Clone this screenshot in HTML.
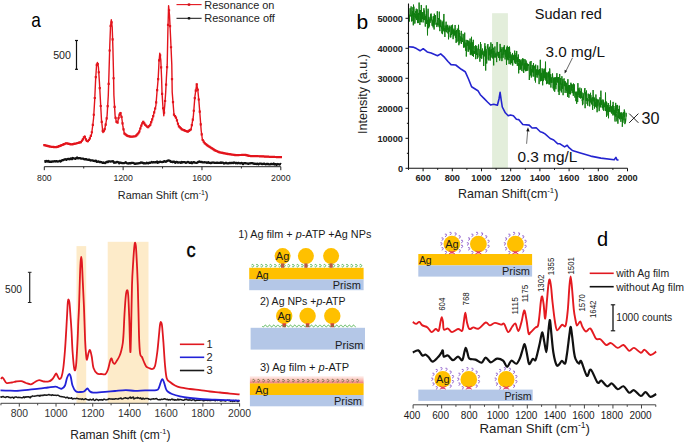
<!DOCTYPE html>
<html><head><meta charset="utf-8"><style>
html,body{margin:0;padding:0;background:#fff;}
svg{display:block;font-family:"Liberation Sans", sans-serif;}
</style></head><body>
<svg width="685" height="442" viewBox="0 0 685 442">
<rect width="685" height="442" fill="#fff"/>
<g id="pa">
<line x1="44.3" y1="166.7" x2="280.8" y2="166.7" stroke="#222" stroke-width="1"/>
<line x1="44.30" y1="166.7" x2="44.30" y2="170.2" stroke="#222" stroke-width="1"/>
<line x1="83.72" y1="166.7" x2="83.72" y2="168.5" stroke="#222" stroke-width="1"/>
<line x1="123.13" y1="166.7" x2="123.13" y2="170.2" stroke="#222" stroke-width="1"/>
<line x1="162.55" y1="166.7" x2="162.55" y2="168.5" stroke="#222" stroke-width="1"/>
<line x1="201.97" y1="166.7" x2="201.97" y2="170.2" stroke="#222" stroke-width="1"/>
<line x1="241.38" y1="166.7" x2="241.38" y2="168.5" stroke="#222" stroke-width="1"/>
<line x1="280.80" y1="166.7" x2="280.80" y2="170.2" stroke="#222" stroke-width="1"/>
<text x="44.30" y="180.7" font-size="9.6" font-weight="400" text-anchor="middle" fill="#222" textLength="14.5" lengthAdjust="spacingAndGlyphs" >800</text>
<text x="123.13" y="180.7" font-size="9.6" font-weight="400" text-anchor="middle" fill="#222" textLength="19.5" lengthAdjust="spacingAndGlyphs" >1200</text>
<text x="201.97" y="180.7" font-size="9.6" font-weight="400" text-anchor="middle" fill="#222" textLength="19.5" lengthAdjust="spacingAndGlyphs" >1600</text>
<text x="280.80" y="180.7" font-size="9.6" font-weight="400" text-anchor="middle" fill="#222" textLength="19.5" lengthAdjust="spacingAndGlyphs" >2000</text>
<text x="117.8" y="199" font-size="11" font-weight="400" text-anchor="start" fill="#222" textLength="90.6" lengthAdjust="spacingAndGlyphs" >Raman Shift (cm<tspan font-size="7" dy="-4.5">-1</tspan><tspan dy="4.5">)</tspan></text>
<text x="31.2" y="27.3" font-size="21" font-weight="400" text-anchor="start" fill="#000" textLength="9.6" lengthAdjust="spacingAndGlyphs" >a</text>
<line x1="76.5" y1="40.3" x2="76.5" y2="69.4" stroke="#111" stroke-width="1.2"/>
<line x1="75.0" y1="40.5" x2="78.0" y2="40.5" stroke="#111" stroke-width="1.2"/>
<line x1="75.0" y1="69.3" x2="78.0" y2="69.3" stroke="#111" stroke-width="1.2"/>
<text x="53.2" y="59.2" font-size="10.5" font-weight="400" text-anchor="start" fill="#222" textLength="17.8" lengthAdjust="spacingAndGlyphs" >500</text>
<line x1="176.5" y1="4.6" x2="201.6" y2="4.6" stroke="#e3141c" stroke-width="1.1"/>
<rect x="187.8" y="3.4" width="2.4" height="2.4" fill="#d0101a"/>
<line x1="176.5" y1="18.3" x2="201.6" y2="18.3" stroke="#111" stroke-width="1.0"/>
<rect x="187.8" y="17.1" width="2.4" height="2.4" fill="#111"/>
<text x="204.3" y="8.6" font-size="11" font-weight="400" text-anchor="start" fill="#222" textLength="70.1" lengthAdjust="spacingAndGlyphs" >Resonance on</text>
<text x="204.3" y="22.2" font-size="11" font-weight="400" text-anchor="start" fill="#222" textLength="70.6" lengthAdjust="spacingAndGlyphs" >Resonance off</text>
<path d="M44.30,145.10 L50.00,146.60 L56.10,147.30 L61.00,145.50 L66.30,143.20 L71.40,144.40 L76.00,143.50 L80.90,142.20 L82.80,139.50 L84.60,136.00 L86.30,140.50 L87.60,141.60 L89.60,139.00 L91.60,133.90 L92.80,125.00 L93.60,118.00 L94.70,100.00 L95.60,80.00 L96.50,66.00 L97.40,62.40 L98.40,67.00 L99.40,82.00 L100.40,100.00 L101.50,120.00 L102.90,132.50 L104.50,130.00 L105.80,124.00 L107.10,115.60 L108.30,95.20 L109.00,72.60 L109.80,45.00 L110.50,27.00 L111.30,19.80 L112.20,27.00 L112.90,48.00 L113.50,72.60 L113.90,95.20 L115.10,115.60 L116.40,121.80 L117.60,122.60 L119.00,116.00 L120.40,112.60 L121.80,118.00 L123.00,127.00 L124.40,133.50 L127.50,136.00 L131.00,136.80 L135.70,136.20 L139.00,132.50 L141.00,126.50 L143.00,121.50 L145.00,124.50 L147.90,127.40 L150.30,124.90 L153.00,117.00 L155.90,105.70 L157.00,92.00 L158.20,78.50 L159.00,62.00 L159.80,53.10 L160.80,60.00 L161.60,78.50 L162.00,92.10 L162.80,105.00 L163.80,115.80 L164.80,105.00 L165.70,92.10 L166.40,78.00 L167.20,64.90 L167.90,30.00 L168.60,5.70 L169.50,15.00 L170.70,40.00 L171.80,64.90 L172.20,92.10 L174.00,114.70 L176.30,118.10 L178.60,126.00 L182.00,129.40 L187.60,131.70 L191.00,129.40 L193.30,117.00 L194.90,96.60 L196.70,84.10 L197.80,90.00 L198.90,101.10 L200.00,115.00 L201.20,130.60 L202.40,139.50 L204.50,143.00 L207.50,145.50 L211.10,147.80 L215.00,150.30 L219.10,152.20 L227.80,154.00 L235.90,155.10 L245.00,154.90 L250.00,156.00 L260.00,156.30 L270.00,156.80 L281.00,157.20" fill="none" stroke="#e3141c" stroke-width="1.4" stroke-linejoin="round"/>
<path d="M43.20,144.00h2.2v2.2h-2.2zM44.19,144.26h2.2v2.2h-2.2zM45.18,144.52h2.2v2.2h-2.2zM46.17,144.78h2.2v2.2h-2.2zM47.16,145.04h2.2v2.2h-2.2zM48.15,145.30h2.2v2.2h-2.2zM49.14,145.53h2.2v2.2h-2.2zM50.13,145.64h2.2v2.2h-2.2zM51.12,145.75h2.2v2.2h-2.2zM52.11,145.87h2.2v2.2h-2.2zM53.10,145.98h2.2v2.2h-2.2zM54.09,146.10h2.2v2.2h-2.2zM55.08,146.17h2.2v2.2h-2.2zM56.07,145.81h2.2v2.2h-2.2zM57.06,145.44h2.2v2.2h-2.2zM58.05,145.08h2.2v2.2h-2.2zM59.04,144.72h2.2v2.2h-2.2zM60.03,144.34h2.2v2.2h-2.2zM61.02,143.91h2.2v2.2h-2.2zM62.01,143.48h2.2v2.2h-2.2zM63.00,143.05h2.2v2.2h-2.2zM63.99,142.63h2.2v2.2h-2.2zM64.98,142.20h2.2v2.2h-2.2zM65.97,142.28h2.2v2.2h-2.2zM66.96,142.51h2.2v2.2h-2.2zM67.95,142.75h2.2v2.2h-2.2zM68.94,142.98h2.2v2.2h-2.2zM69.93,143.21h2.2v2.2h-2.2zM70.92,143.18h2.2v2.2h-2.2zM71.91,142.99h2.2v2.2h-2.2zM72.90,142.79h2.2v2.2h-2.2zM73.89,142.60h2.2v2.2h-2.2zM74.88,142.40h2.2v2.2h-2.2zM75.87,142.14h2.2v2.2h-2.2zM76.86,141.88h2.2v2.2h-2.2zM77.85,141.62h2.2v2.2h-2.2zM78.84,141.35h2.2v2.2h-2.2zM79.83,141.06h2.2v2.2h-2.2zM80.82,139.65h2.2v2.2h-2.2zM81.81,138.19h2.2v2.2h-2.2zM82.80,136.26h2.2v2.2h-2.2zM83.79,135.67h2.2v2.2h-2.2zM84.78,138.29h2.2v2.2h-2.2zM85.77,139.88h2.2v2.2h-2.2zM86.76,140.16h2.2v2.2h-2.2zM87.75,138.88h2.2v2.2h-2.2zM88.74,137.29h2.2v2.2h-2.2zM89.73,134.76h2.2v2.2h-2.2zM90.72,131.17h2.2v2.2h-2.2zM91.71,123.81h2.2v2.2h-2.2zM92.70,113.63h2.2v2.2h-2.2zM93.69,96.90h2.2v2.2h-2.2zM94.68,76.10h2.2v2.2h-2.2zM95.67,63.82h2.2v2.2h-2.2zM96.66,62.96h2.2v2.2h-2.2zM97.65,71.15h2.2v2.2h-2.2zM98.64,87.02h2.2v2.2h-2.2zM99.63,104.90h2.2v2.2h-2.2zM100.62,120.86h2.2v2.2h-2.2zM101.61,129.70h2.2v2.2h-2.2zM102.60,130.15h2.2v2.2h-2.2zM103.59,128.02h2.2v2.2h-2.2zM104.58,123.45h2.2v2.2h-2.2zM105.57,117.28h2.2v2.2h-2.2zM106.56,104.98h2.2v2.2h-2.2zM107.55,82.80h2.2v2.2h-2.2zM108.54,49.42h2.2v2.2h-2.2zM109.53,24.73h2.2v2.2h-2.2zM110.52,21.26h2.2v2.2h-2.2zM111.51,38.20h2.2v2.2h-2.2zM112.50,77.15h2.2v2.2h-2.2zM113.49,105.83h2.2v2.2h-2.2zM114.48,116.79h2.2v2.2h-2.2zM115.47,120.81h2.2v2.2h-2.2zM116.46,121.47h2.2v2.2h-2.2zM117.45,117.02h2.2v2.2h-2.2zM118.44,113.59h2.2v2.2h-2.2zM119.43,112.00h2.2v2.2h-2.2zM120.42,115.82h2.2v2.2h-2.2zM121.41,122.22h2.2v2.2h-2.2zM122.40,128.22h2.2v2.2h-2.2zM123.39,132.47h2.2v2.2h-2.2zM124.38,133.27h2.2v2.2h-2.2zM125.37,134.07h2.2v2.2h-2.2zM126.36,134.87h2.2v2.2h-2.2zM127.35,135.12h2.2v2.2h-2.2zM128.34,135.34h2.2v2.2h-2.2zM129.33,135.57h2.2v2.2h-2.2zM130.32,135.65h2.2v2.2h-2.2zM131.31,135.52h2.2v2.2h-2.2zM132.30,135.39h2.2v2.2h-2.2zM133.29,135.27h2.2v2.2h-2.2zM134.28,135.14h2.2v2.2h-2.2zM135.27,134.35h2.2v2.2h-2.2zM136.26,133.24h2.2v2.2h-2.2zM137.25,132.13h2.2v2.2h-2.2zM138.24,130.38h2.2v2.2h-2.2zM139.23,127.41h2.2v2.2h-2.2zM140.22,124.60h2.2v2.2h-2.2zM141.21,122.13h2.2v2.2h-2.2zM142.20,120.85h2.2v2.2h-2.2zM143.19,122.33h2.2v2.2h-2.2zM144.18,123.68h2.2v2.2h-2.2zM145.17,124.67h2.2v2.2h-2.2zM146.16,125.66h2.2v2.2h-2.2zM147.15,125.94h2.2v2.2h-2.2zM148.14,124.90h2.2v2.2h-2.2zM149.13,123.87h2.2v2.2h-2.2zM150.12,121.11h2.2v2.2h-2.2zM151.11,118.21h2.2v2.2h-2.2zM152.10,115.12h2.2v2.2h-2.2zM153.09,111.26h2.2v2.2h-2.2zM154.08,107.41h2.2v2.2h-2.2zM155.07,101.24h2.2v2.2h-2.2zM156.06,89.10h2.2v2.2h-2.2zM157.05,77.96h2.2v2.2h-2.2zM158.04,59.34h2.2v2.2h-2.2zM159.03,54.28h2.2v2.2h-2.2zM160.02,66.30h2.2v2.2h-2.2zM161.01,92.77h2.2v2.2h-2.2zM162.00,107.14h2.2v2.2h-2.2zM162.99,111.57h2.2v2.2h-2.2zM163.98,99.89h2.2v2.2h-2.2zM164.97,83.55h2.2v2.2h-2.2zM165.96,66.09h2.2v2.2h-2.2zM166.95,23.69h2.2v2.2h-2.2zM167.94,9.15h2.2v2.2h-2.2zM168.93,24.94h2.2v2.2h-2.2zM169.92,46.14h2.2v2.2h-2.2zM170.91,78.08h2.2v2.2h-2.2zM171.90,101.04h2.2v2.2h-2.2zM172.89,113.47h2.2v2.2h-2.2zM173.88,115.05h2.2v2.2h-2.2zM174.87,116.51h2.2v2.2h-2.2zM175.86,119.27h2.2v2.2h-2.2zM176.85,122.67h2.2v2.2h-2.2zM177.84,125.24h2.2v2.2h-2.2zM178.83,126.23h2.2v2.2h-2.2zM179.82,127.22h2.2v2.2h-2.2zM180.81,128.21h2.2v2.2h-2.2zM181.80,128.67h2.2v2.2h-2.2zM182.79,129.08h2.2v2.2h-2.2zM183.78,129.48h2.2v2.2h-2.2zM184.77,129.89h2.2v2.2h-2.2zM185.76,130.30h2.2v2.2h-2.2zM186.75,130.43h2.2v2.2h-2.2zM187.74,129.76h2.2v2.2h-2.2zM188.73,129.09h2.2v2.2h-2.2zM189.72,128.42h2.2v2.2h-2.2zM190.71,123.93h2.2v2.2h-2.2zM191.70,118.60h2.2v2.2h-2.2zM192.69,109.65h2.2v2.2h-2.2zM193.68,97.03h2.2v2.2h-2.2zM194.67,89.46h2.2v2.2h-2.2zM195.66,83.32h2.2v2.2h-2.2zM196.65,88.63h2.2v2.2h-2.2zM197.64,98.39h2.2v2.2h-2.2zM198.63,110.49h2.2v2.2h-2.2zM199.62,123.26h2.2v2.2h-2.2zM200.61,133.28h2.2v2.2h-2.2zM201.60,138.90h2.2v2.2h-2.2zM202.59,140.55h2.2v2.2h-2.2zM203.58,142.05h2.2v2.2h-2.2zM204.57,142.88h2.2v2.2h-2.2zM205.56,143.70h2.2v2.2h-2.2zM206.55,144.50h2.2v2.2h-2.2zM207.54,145.13h2.2v2.2h-2.2zM208.53,145.76h2.2v2.2h-2.2zM209.52,146.39h2.2v2.2h-2.2zM210.51,147.03h2.2v2.2h-2.2zM211.50,147.66h2.2v2.2h-2.2zM212.49,148.30h2.2v2.2h-2.2zM213.48,148.93h2.2v2.2h-2.2zM214.47,149.46h2.2v2.2h-2.2zM215.46,149.92h2.2v2.2h-2.2zM216.45,150.38h2.2v2.2h-2.2zM217.44,150.84h2.2v2.2h-2.2zM218.43,151.19h2.2v2.2h-2.2zM219.42,151.39h2.2v2.2h-2.2zM220.41,151.60h2.2v2.2h-2.2zM221.40,151.80h2.2v2.2h-2.2zM222.39,152.01h2.2v2.2h-2.2zM223.38,152.21h2.2v2.2h-2.2zM224.37,152.42h2.2v2.2h-2.2zM225.36,152.62h2.2v2.2h-2.2zM226.35,152.83h2.2v2.2h-2.2zM227.34,152.99h2.2v2.2h-2.2zM228.33,153.12h2.2v2.2h-2.2zM229.32,153.26h2.2v2.2h-2.2zM230.31,153.39h2.2v2.2h-2.2zM231.30,153.52h2.2v2.2h-2.2zM232.29,153.66h2.2v2.2h-2.2zM233.28,153.79h2.2v2.2h-2.2zM234.27,153.93h2.2v2.2h-2.2zM235.26,153.99h2.2v2.2h-2.2zM236.25,153.97h2.2v2.2h-2.2zM237.24,153.95h2.2v2.2h-2.2zM238.23,153.92h2.2v2.2h-2.2zM239.22,153.90h2.2v2.2h-2.2zM240.21,153.88h2.2v2.2h-2.2zM241.20,153.86h2.2v2.2h-2.2zM242.19,153.84h2.2v2.2h-2.2zM243.18,153.82h2.2v2.2h-2.2zM244.17,153.86h2.2v2.2h-2.2zM245.16,154.08h2.2v2.2h-2.2zM246.15,154.30h2.2v2.2h-2.2zM247.14,154.51h2.2v2.2h-2.2zM248.13,154.73h2.2v2.2h-2.2zM249.12,154.91h2.2v2.2h-2.2zM250.11,154.94h2.2v2.2h-2.2zM251.10,154.97h2.2v2.2h-2.2zM252.09,155.00h2.2v2.2h-2.2zM253.08,155.03h2.2v2.2h-2.2zM254.07,155.06h2.2v2.2h-2.2zM255.06,155.08h2.2v2.2h-2.2zM256.05,155.11h2.2v2.2h-2.2zM257.04,155.14h2.2v2.2h-2.2zM258.03,155.17h2.2v2.2h-2.2zM259.02,155.21h2.2v2.2h-2.2zM260.01,155.26h2.2v2.2h-2.2zM261.00,155.31h2.2v2.2h-2.2zM261.99,155.35h2.2v2.2h-2.2zM262.98,155.40h2.2v2.2h-2.2zM263.97,155.45h2.2v2.2h-2.2zM264.96,155.50h2.2v2.2h-2.2zM265.95,155.55h2.2v2.2h-2.2zM266.94,155.60h2.2v2.2h-2.2zM267.93,155.65h2.2v2.2h-2.2zM268.92,155.70h2.2v2.2h-2.2zM269.91,155.74h2.2v2.2h-2.2zM270.90,155.77h2.2v2.2h-2.2zM271.89,155.81h2.2v2.2h-2.2zM272.88,155.84h2.2v2.2h-2.2zM273.87,155.88h2.2v2.2h-2.2zM274.86,155.92h2.2v2.2h-2.2zM275.85,155.95h2.2v2.2h-2.2zM276.84,155.99h2.2v2.2h-2.2zM277.83,156.02h2.2v2.2h-2.2zM278.82,156.06h2.2v2.2h-2.2zM279.81,156.10h2.2v2.2h-2.2z" fill="#e3141c"/>
<path d="M44.30,161.25 L44.82,161.25 L45.51,161.79 L46.32,160.89 L47.23,161.53 L48.20,160.89 L49.20,161.88 L50.19,161.60 L51.13,161.93 L52.00,161.35 L52.91,161.60 L53.79,161.39 L54.66,161.26 L55.52,161.51 L56.38,161.07 L57.25,161.29 L58.12,161.53 L59.00,161.22 L59.81,160.92 L60.63,161.50 L61.47,160.63 L62.31,160.18 L63.15,160.14 L63.97,159.68 L64.78,159.47 L65.56,159.27 L66.30,159.81 L67.20,159.04 L68.04,158.95 L68.84,158.99 L69.62,159.31 L70.40,158.57 L71.18,158.38 L72.00,159.24 L72.84,157.99 L73.69,158.25 L74.55,158.50 L75.41,158.93 L76.28,157.92 L77.14,157.46 L78.00,158.40 L78.87,158.08 L79.77,158.18 L80.67,158.52 L81.55,158.54 L82.42,158.67 L83.24,158.56 L84.00,159.19 L84.90,159.40 L85.64,159.12 L86.35,159.15 L87.16,159.70 L88.20,159.84 L88.91,159.53 L89.68,159.86 L90.52,160.48 L91.40,160.31 L92.31,160.42 L93.24,160.76 L94.17,160.87 L95.10,161.04 L96.00,160.62 L96.82,161.87 L97.68,161.55 L98.55,161.38 L99.44,162.08 L100.32,162.02 L101.18,162.07 L102.01,162.50 L102.80,162.96 L103.54,162.52 L104.20,162.88 L105.33,163.04 L106.26,161.99 L107.06,161.98 L107.79,162.19 L108.50,161.29 L109.61,161.43 L110.59,161.61 L111.50,161.41 L112.31,161.47 L113.07,161.09 L114.00,162.71 L114.61,162.30 L115.22,162.49 L115.92,162.52 L116.82,161.97 L118.00,162.17 L118.60,162.29 L119.24,163.28 L119.94,162.51 L120.68,162.75 L121.46,162.80 L122.28,163.11 L123.12,163.14 L123.99,163.12 L124.87,162.71 L125.77,162.19 L126.68,163.22 L127.60,163.28 L128.35,163.59 L129.13,163.20 L129.94,163.06 L130.77,163.38 L131.61,162.80 L132.47,162.96 L133.34,162.97 L134.21,163.36 L135.08,163.90 L135.94,163.50 L136.79,163.60 L137.63,163.32 L138.45,163.32 L139.24,163.08 L140.00,163.12 L140.92,162.44 L141.81,162.77 L142.67,162.71 L143.51,163.30 L144.34,163.19 L145.15,163.28 L145.95,163.35 L146.76,162.73 L147.56,163.08 L148.36,163.29 L149.17,162.65 L150.00,162.93 L150.85,162.50 L151.72,162.01 L152.62,162.48 L153.52,162.15 L154.42,162.37 L155.31,162.15 L156.19,162.33 L157.04,161.54 L157.85,162.76 L158.62,162.50 L159.34,161.94 L160.00,161.73 L161.13,161.93 L162.07,162.07 L162.88,161.93 L163.59,161.87 L164.28,161.09 L165.00,161.26 L165.88,161.86 L166.72,161.34 L167.52,160.62 L168.28,160.68 L169.00,160.47 L169.89,160.79 L170.67,161.82 L172.00,161.73 L172.57,162.21 L173.17,162.01 L173.81,161.56 L174.50,161.89 L175.25,162.85 L176.06,161.98 L176.93,161.95 L177.87,162.70 L178.89,162.39 L180.00,162.40 L180.67,162.86 L181.41,161.89 L182.21,162.57 L183.05,162.13 L183.94,162.03 L184.85,162.21 L185.79,162.82 L186.74,162.43 L187.69,161.91 L188.64,162.13 L189.57,162.93 L190.48,162.77 L191.36,162.12 L192.20,163.19 L193.00,162.32 L193.73,162.06 L194.40,162.37 L195.00,162.69 L196.42,162.83 L197.44,162.54 L198.19,161.98 L198.78,161.82 L199.34,161.47 L200.00,161.88 L200.67,161.79 L201.10,162.19 L201.58,161.91 L202.45,162.31 L204.00,162.33 L204.52,162.25 L205.07,162.28 L205.66,162.34 L206.29,162.30 L206.95,162.85 L207.63,162.71 L208.35,162.29 L209.10,162.85 L209.88,162.79 L210.69,163.15 L211.52,162.65 L212.38,162.65 L213.26,162.51 L214.16,162.76 L215.09,162.89 L216.03,162.80 L217.00,162.68 L217.98,162.94 L218.98,162.81 L220.00,162.88 L220.66,162.53 L221.34,162.89 L222.02,162.54 L222.71,162.60 L223.40,162.92 L224.11,163.53 L224.82,163.21 L225.54,162.92 L226.27,162.88 L227.01,163.26 L227.76,163.40 L228.52,163.36 L229.29,162.95 L230.06,163.08 L230.85,162.95 L231.65,162.98 L232.46,162.82 L233.28,163.03 L234.11,162.47 L234.95,162.78 L235.80,163.30 L236.67,162.91 L237.54,163.38 L238.43,162.84 L239.33,163.15 L240.25,163.40 L241.17,162.99 L242.11,163.11 L243.06,164.11 L244.02,163.17 L245.00,163.18 L245.69,163.24 L246.41,163.45 L247.16,163.45 L247.92,163.77 L248.71,163.73 L249.53,163.39 L250.36,163.42 L251.21,163.12 L252.07,163.12 L252.95,163.37 L253.85,163.84 L254.75,163.68 L255.66,163.91 L256.59,163.98 L257.52,163.66 L258.45,164.38 L259.39,163.60 L260.34,163.59 L261.28,163.67 L262.22,164.18 L263.16,163.81 L264.10,163.65 L265.03,164.03 L265.95,164.27 L266.87,163.91 L267.77,163.89 L268.66,164.32 L269.54,164.31 L270.41,164.32 L271.26,163.82 L272.09,164.16 L272.90,164.21 L273.69,163.57 L274.46,164.50 L275.21,164.19 L275.93,164.07 L276.62,164.88 L277.28,164.25 L277.92,164.00 L278.52,164.22 L279.09,164.43 L279.62,164.51 L280.12,164.26 L280.58,164.02 L281.00,164.30" fill="none" stroke="#111" stroke-width="2.3" stroke-linejoin="round"/>
</g>
<g id="pb">
<rect x="492.1" y="13.2" width="15.8" height="155.1" fill="#e3eedb"/>
<path d="M408.50,16.45 L408.70,22.01 L408.90,20.07 L409.10,14.77 L409.30,21.44 L409.50,15.89 L409.70,14.28 L409.90,13.94 L410.10,8.25 L410.30,14.92 L410.50,16.40 L410.70,16.03 L410.90,14.16 L411.10,6.42 L411.30,9.28 L411.50,21.39 L411.70,17.68 L411.90,14.62 L412.10,21.14 L412.30,15.02 L412.50,11.40 L412.70,15.93 L412.90,7.18 L413.10,10.91 L413.30,25.30 L413.50,4.61 L413.70,24.13 L413.90,6.65 L414.10,15.45 L414.30,12.98 L414.50,15.83 L414.70,17.91 L414.90,23.54 L415.10,20.78 L415.30,14.00 L415.50,18.25 L415.70,11.05 L415.90,13.12 L416.10,9.38 L416.30,8.70 L416.50,15.30 L416.70,19.91 L416.90,13.86 L417.10,20.13 L417.30,9.37 L417.50,23.09 L417.70,15.38 L417.90,14.30 L418.10,15.42 L418.30,23.08 L418.50,12.92 L418.70,17.77 L418.90,19.75 L419.10,2.57 L419.30,14.20 L419.50,15.01 L419.70,9.93 L419.90,24.94 L420.10,10.01 L420.30,22.08 L420.50,10.22 L420.70,18.16 L420.90,14.66 L421.10,20.69 L421.30,4.97 L421.50,22.20 L421.70,17.63 L421.90,13.11 L422.10,15.75 L422.30,14.37 L422.50,19.06 L422.70,12.02 L422.90,12.89 L423.10,22.45 L423.30,16.96 L423.50,19.06 L423.70,19.94 L423.90,8.23 L424.10,19.31 L424.30,10.53 L424.50,19.79 L424.70,20.03 L424.90,14.37 L425.10,21.39 L425.30,26.61 L425.50,16.11 L425.70,17.27 L425.90,16.40 L426.10,17.53 L426.30,5.42 L426.50,23.95 L426.70,10.67 L426.90,18.04 L427.10,19.36 L427.30,21.32 L427.50,35.39 L427.70,20.22 L427.90,21.96 L428.10,8.74 L428.30,24.40 L428.50,18.48 L428.70,28.25 L428.90,16.88 L429.10,21.41 L429.30,22.97 L429.50,26.50 L429.70,19.36 L429.90,18.65 L430.10,22.89 L430.30,20.51 L430.50,14.60 L430.70,14.14 L430.90,21.04 L431.10,13.51 L431.30,16.92 L431.50,19.98 L431.70,16.74 L431.90,22.57 L432.10,25.78 L432.30,21.27 L432.50,25.45 L432.70,21.86 L432.90,19.63 L433.10,27.40 L433.30,16.15 L433.50,25.05 L433.70,20.44 L433.90,19.45 L434.10,29.51 L434.30,13.71 L434.50,22.51 L434.70,18.07 L434.90,24.55 L435.10,15.42 L435.30,18.20 L435.50,15.40 L435.70,21.91 L435.90,22.19 L436.10,24.59 L436.30,23.27 L436.50,23.26 L436.70,23.88 L436.90,27.06 L437.10,17.22 L437.30,11.22 L437.50,19.34 L437.70,25.13 L437.90,23.01 L438.10,25.50 L438.30,20.78 L438.50,18.07 L438.70,18.84 L438.90,20.76 L439.10,27.13 L439.30,11.66 L439.50,24.66 L439.70,28.73 L439.90,31.16 L440.10,19.57 L440.30,24.58 L440.50,26.57 L440.70,27.15 L440.90,20.36 L441.10,25.08 L441.30,25.41 L441.50,29.06 L441.70,26.81 L441.90,33.42 L442.10,24.85 L442.30,21.58 L442.50,34.12 L442.70,29.92 L442.90,23.48 L443.10,25.30 L443.30,20.46 L443.50,30.68 L443.70,18.11 L443.90,13.98 L444.10,21.07 L444.30,32.09 L444.50,28.07 L444.70,31.22 L444.90,36.96 L445.10,25.56 L445.30,27.92 L445.50,31.29 L445.70,31.30 L445.90,26.27 L446.10,21.69 L446.30,32.27 L446.50,30.80 L446.70,25.46 L446.90,28.77 L447.10,28.64 L447.30,25.97 L447.50,29.67 L447.70,24.83 L447.90,33.42 L448.10,28.54 L448.30,27.82 L448.50,39.33 L448.70,36.61 L448.90,30.38 L449.10,26.29 L449.30,31.73 L449.50,27.00 L449.70,27.88 L449.90,25.51 L450.10,26.32 L450.30,37.13 L450.50,33.99 L450.70,37.53 L450.90,36.75 L451.10,27.01 L451.30,34.31 L451.50,35.05 L451.70,25.30 L451.90,29.60 L452.10,32.87 L452.30,33.79 L452.50,24.70 L452.70,30.30 L452.90,30.52 L453.10,39.16 L453.30,30.13 L453.50,36.30 L453.70,33.60 L453.90,28.67 L454.10,32.94 L454.30,35.52 L454.50,33.02 L454.70,30.54 L454.90,33.32 L455.10,24.99 L455.30,36.86 L455.50,37.89 L455.70,31.23 L455.90,32.93 L456.10,42.89 L456.30,36.13 L456.50,30.11 L456.70,38.82 L456.90,42.09 L457.10,33.92 L457.30,28.61 L457.50,29.40 L457.70,30.05 L457.90,34.65 L458.10,41.10 L458.30,37.09 L458.50,24.87 L458.70,31.28 L458.90,45.22 L459.10,30.08 L459.30,35.81 L459.50,36.95 L459.70,33.03 L459.90,43.46 L460.10,37.71 L460.30,36.46 L460.50,41.15 L460.70,38.04 L460.90,37.21 L461.10,35.25 L461.30,30.88 L461.50,43.90 L461.70,37.27 L461.90,39.54 L462.10,38.39 L462.30,39.69 L462.50,40.75 L462.70,42.00 L462.90,33.84 L463.10,33.91 L463.30,34.13 L463.50,47.67 L463.70,47.26 L463.90,42.04 L464.10,45.56 L464.30,46.58 L464.50,44.38 L464.70,32.63 L464.90,47.54 L465.10,43.67 L465.30,42.75 L465.50,47.45 L465.70,50.78 L465.90,50.14 L466.10,39.83 L466.30,56.55 L466.50,49.04 L466.70,49.66 L466.90,42.84 L467.10,45.98 L467.30,39.97 L467.50,44.38 L467.70,41.71 L467.90,45.34 L468.10,51.71 L468.30,40.62 L468.50,41.37 L468.70,51.41 L468.90,42.69 L469.10,42.60 L469.30,41.45 L469.50,49.49 L469.70,47.58 L469.90,42.11 L470.10,38.55 L470.30,54.66 L470.50,49.02 L470.70,42.64 L470.90,42.66 L471.10,55.18 L471.30,54.36 L471.50,36.80 L471.70,53.60 L471.90,49.20 L472.10,51.47 L472.30,50.75 L472.50,55.91 L472.70,42.29 L472.90,48.71 L473.10,45.02 L473.30,39.81 L473.50,56.71 L473.70,51.29 L473.90,51.18 L474.10,52.71 L474.30,51.06 L474.50,53.84 L474.70,50.78 L474.90,46.05 L475.10,48.91 L475.30,52.40 L475.50,45.36 L475.70,59.16 L475.90,50.71 L476.10,53.11 L476.30,50.29 L476.50,54.76 L476.70,45.79 L476.90,54.71 L477.10,48.49 L477.30,58.71 L477.50,57.60 L477.70,53.41 L477.90,57.56 L478.10,55.76 L478.30,53.95 L478.50,44.52 L478.70,49.41 L478.90,49.36 L479.10,49.96 L479.30,49.45 L479.50,56.47 L479.70,57.75 L479.90,61.71 L480.10,58.77 L480.30,51.66 L480.50,42.06 L480.70,57.99 L480.90,44.09 L481.10,53.17 L481.30,55.88 L481.50,50.50 L481.70,58.78 L481.90,56.84 L482.10,51.63 L482.30,51.49 L482.50,48.56 L482.70,54.44 L482.90,52.13 L483.10,54.86 L483.30,55.16 L483.50,54.05 L483.70,66.03 L483.90,50.84 L484.10,55.04 L484.30,56.41 L484.50,48.54 L484.70,51.77 L484.90,43.23 L485.10,55.32 L485.30,46.31 L485.50,61.78 L485.70,70.54 L485.90,54.69 L486.10,49.22 L486.30,57.84 L486.50,51.51 L486.70,63.54 L486.90,55.29 L487.10,48.48 L487.30,45.69 L487.50,46.35 L487.70,48.65 L487.90,44.04 L488.10,58.84 L488.30,59.64 L488.50,56.55 L488.70,48.31 L488.90,60.50 L489.10,54.42 L489.30,46.76 L489.50,55.19 L489.70,49.81 L489.90,50.83 L490.10,56.83 L490.30,60.53 L490.50,50.17 L490.70,56.39 L490.90,42.38 L491.10,57.59 L491.30,49.15 L491.50,53.40 L491.70,53.68 L491.90,51.39 L492.10,51.51 L492.30,43.99 L492.50,50.26 L492.70,58.46 L492.90,52.36 L493.10,51.87 L493.30,47.69 L493.50,60.45 L493.70,65.40 L493.90,50.92 L494.10,53.97 L494.30,56.93 L494.50,57.44 L494.70,56.00 L494.90,46.49 L495.10,52.96 L495.30,54.42 L495.50,53.71 L495.70,57.56 L495.90,55.68 L496.10,52.60 L496.30,53.56 L496.50,60.38 L496.70,62.11 L496.90,50.70 L497.10,42.09 L497.30,52.26 L497.50,51.68 L497.70,55.60 L497.90,56.35 L498.10,54.05 L498.30,54.55 L498.50,52.18 L498.70,57.99 L498.90,53.95 L499.10,53.13 L499.30,51.59 L499.50,53.51 L499.70,60.62 L499.90,58.83 L500.10,43.90 L500.30,51.28 L500.50,49.07 L500.70,52.04 L500.90,46.95 L501.10,58.30 L501.30,52.82 L501.50,48.77 L501.70,49.04 L501.90,61.13 L502.10,58.91 L502.30,54.98 L502.50,53.95 L502.70,54.62 L502.90,47.30 L503.10,57.82 L503.30,48.92 L503.50,50.66 L503.70,46.88 L503.90,54.60 L504.10,50.60 L504.30,45.24 L504.50,51.61 L504.70,49.22 L504.90,56.09 L505.10,59.43 L505.30,53.11 L505.50,50.09 L505.70,56.75 L505.90,57.03 L506.10,49.73 L506.30,56.19 L506.50,64.86 L506.70,47.44 L506.90,52.12 L507.10,56.92 L507.30,45.78 L507.50,58.68 L507.70,52.95 L507.90,60.23 L508.10,49.25 L508.30,47.03 L508.50,55.97 L508.70,59.74 L508.90,58.97 L509.10,64.13 L509.30,54.77 L509.50,46.59 L509.70,48.89 L509.90,58.39 L510.10,51.93 L510.30,59.73 L510.50,59.35 L510.70,64.46 L510.90,54.28 L511.10,57.12 L511.30,58.39 L511.50,63.06 L511.70,55.45 L511.90,60.49 L512.10,58.07 L512.30,55.69 L512.50,52.96 L512.70,65.59 L512.90,55.86 L513.10,55.90 L513.30,60.15 L513.50,55.45 L513.70,59.45 L513.90,57.68 L514.10,54.70 L514.30,58.20 L514.50,62.41 L514.70,50.63 L514.90,55.92 L515.10,63.42 L515.30,55.24 L515.50,57.38 L515.70,55.67 L515.90,64.01 L516.10,53.18 L516.30,56.06 L516.50,58.41 L516.70,50.94 L516.90,62.28 L517.10,58.15 L517.30,65.83 L517.50,58.42 L517.70,61.17 L517.90,56.93 L518.10,58.09 L518.30,54.47 L518.50,62.32 L518.70,73.36 L518.90,63.05 L519.10,66.07 L519.30,59.02 L519.50,62.80 L519.70,63.41 L519.90,70.00 L520.10,60.24 L520.30,64.44 L520.50,68.46 L520.70,60.86 L520.90,69.41 L521.10,59.35 L521.30,68.25 L521.50,63.61 L521.70,67.40 L521.90,71.08 L522.10,62.32 L522.30,63.26 L522.50,58.60 L522.70,65.45 L522.90,58.38 L523.10,65.11 L523.30,71.68 L523.50,69.53 L523.70,72.90 L523.90,58.98 L524.10,69.43 L524.30,64.72 L524.50,63.46 L524.70,67.86 L524.90,69.57 L525.10,59.30 L525.30,70.72 L525.50,63.24 L525.70,71.26 L525.90,62.93 L526.10,60.51 L526.30,61.83 L526.50,71.02 L526.70,70.81 L526.90,62.86 L527.10,65.41 L527.30,65.58 L527.50,63.90 L527.70,70.75 L527.90,70.24 L528.10,65.82 L528.30,64.07 L528.50,65.79 L528.70,64.56 L528.90,66.54 L529.10,69.81 L529.30,79.99 L529.50,75.03 L529.70,74.82 L529.90,65.97 L530.10,61.67 L530.30,75.49 L530.50,66.67 L530.70,64.04 L530.90,62.70 L531.10,61.03 L531.30,77.52 L531.50,69.21 L531.70,71.20 L531.90,76.51 L532.10,65.16 L532.30,65.09 L532.50,72.13 L532.70,72.02 L532.90,66.29 L533.10,71.69 L533.30,73.15 L533.50,63.03 L533.70,76.62 L533.90,73.86 L534.10,66.47 L534.30,66.37 L534.50,67.98 L534.70,66.34 L534.90,77.46 L535.10,80.67 L535.30,65.08 L535.50,82.48 L535.70,64.65 L535.90,76.99 L536.10,69.91 L536.30,74.63 L536.50,69.75 L536.70,74.67 L536.90,69.40 L537.10,77.75 L537.30,76.96 L537.50,73.26 L537.70,65.47 L537.90,71.97 L538.10,75.16 L538.30,70.66 L538.50,73.66 L538.70,69.98 L538.90,70.52 L539.10,84.14 L539.30,69.05 L539.50,72.74 L539.70,69.38 L539.90,72.79 L540.10,76.10 L540.30,59.82 L540.50,81.27 L540.70,74.05 L540.90,80.80 L541.10,76.16 L541.30,72.84 L541.50,78.10 L541.70,79.64 L541.90,80.94 L542.10,68.30 L542.30,79.62 L542.50,80.96 L542.70,85.32 L542.90,69.27 L543.10,74.58 L543.30,81.17 L543.50,78.81 L543.70,71.23 L543.90,77.13 L544.10,68.68 L544.30,76.34 L544.50,76.23 L544.70,77.82 L544.90,68.77 L545.10,79.75 L545.30,72.46 L545.50,61.65 L545.70,78.66 L545.90,78.04 L546.10,81.00 L546.30,72.36 L546.50,84.14 L546.70,78.62 L546.90,76.19 L547.10,73.08 L547.30,79.12 L547.50,83.24 L547.70,83.66 L547.90,82.21 L548.10,72.23 L548.30,77.34 L548.50,72.91 L548.70,71.58 L548.90,84.39 L549.10,72.37 L549.30,83.29 L549.50,84.34 L549.70,68.46 L549.90,71.68 L550.10,82.56 L550.30,75.54 L550.50,80.90 L550.70,74.17 L550.90,87.56 L551.10,77.16 L551.30,82.72 L551.50,78.36 L551.70,79.18 L551.90,82.54 L552.10,82.75 L552.30,76.82 L552.50,73.49 L552.70,77.91 L552.90,76.89 L553.10,88.45 L553.30,80.59 L553.50,78.24 L553.70,87.10 L553.90,90.52 L554.10,77.95 L554.30,84.76 L554.50,77.63 L554.70,91.73 L554.90,77.91 L555.10,87.24 L555.30,77.21 L555.50,83.48 L555.70,80.93 L555.90,89.23 L556.10,83.21 L556.30,84.98 L556.50,76.60 L556.70,80.10 L556.90,73.21 L557.10,82.32 L557.30,79.29 L557.50,82.06 L557.70,77.22 L557.90,82.60 L558.10,78.86 L558.30,91.78 L558.50,77.02 L558.70,82.51 L558.90,87.76 L559.10,95.03 L559.30,86.53 L559.50,90.37 L559.70,73.97 L559.90,80.62 L560.10,84.61 L560.30,82.93 L560.50,83.39 L560.70,78.06 L560.90,90.63 L561.10,83.46 L561.30,92.44 L561.50,88.60 L561.70,85.68 L561.90,76.23 L562.10,81.69 L562.30,84.98 L562.50,81.77 L562.70,88.89 L562.90,79.16 L563.10,95.21 L563.30,84.04 L563.50,83.98 L563.70,83.40 L563.90,80.60 L564.10,78.36 L564.30,86.21 L564.50,83.79 L564.70,83.81 L564.90,80.94 L565.10,92.93 L565.30,81.61 L565.50,84.73 L565.70,87.92 L565.90,89.93 L566.10,84.22 L566.30,91.07 L566.50,90.85 L566.70,82.74 L566.90,92.89 L567.10,88.85 L567.30,86.54 L567.50,96.84 L567.70,88.22 L567.90,79.21 L568.10,93.39 L568.30,91.06 L568.50,85.06 L568.70,89.21 L568.90,97.70 L569.10,85.06 L569.30,94.00 L569.50,85.31 L569.70,91.41 L569.90,91.26 L570.10,91.69 L570.30,90.90 L570.50,94.31 L570.70,85.03 L570.90,82.73 L571.10,90.39 L571.30,85.43 L571.50,83.86 L571.70,90.51 L571.90,89.35 L572.10,93.18 L572.30,84.44 L572.50,88.50 L572.70,88.47 L572.90,92.53 L573.10,89.94 L573.30,95.85 L573.50,83.46 L573.70,91.81 L573.90,93.68 L574.10,88.45 L574.30,84.37 L574.50,89.95 L574.70,93.22 L574.90,97.57 L575.10,95.60 L575.30,91.69 L575.50,92.78 L575.70,95.72 L575.90,101.18 L576.10,95.19 L576.30,92.28 L576.50,93.22 L576.70,103.77 L576.90,91.51 L577.10,95.03 L577.30,92.49 L577.50,95.32 L577.70,101.97 L577.90,83.13 L578.10,95.15 L578.30,88.32 L578.50,90.04 L578.70,95.29 L578.90,97.23 L579.10,96.00 L579.30,91.16 L579.50,89.79 L579.70,97.79 L579.90,87.63 L580.10,94.42 L580.30,91.38 L580.50,98.46 L580.70,93.98 L580.90,94.03 L581.10,91.48 L581.30,97.68 L581.50,88.51 L581.70,97.52 L581.90,92.32 L582.10,101.01 L582.30,100.65 L582.50,105.15 L582.70,96.70 L582.90,104.26 L583.10,93.18 L583.30,94.15 L583.50,100.14 L583.70,98.60 L583.90,94.65 L584.10,94.57 L584.30,93.13 L584.50,89.37 L584.70,92.30 L584.90,88.01 L585.10,108.19 L585.30,92.23 L585.50,95.28 L585.70,93.79 L585.90,99.51 L586.10,100.77 L586.30,93.36 L586.50,90.50 L586.70,100.77 L586.90,98.50 L587.10,103.99 L587.30,98.26 L587.50,105.51 L587.70,100.20 L587.90,99.08 L588.10,93.65 L588.30,93.76 L588.50,96.81 L588.70,98.48 L588.90,101.23 L589.10,99.44 L589.30,106.01 L589.50,94.45 L589.70,106.40 L589.90,102.68 L590.10,100.87 L590.30,102.51 L590.50,92.80 L590.70,100.53 L590.90,95.15 L591.10,100.58 L591.30,100.71 L591.50,104.35 L591.70,98.63 L591.90,98.34 L592.10,101.07 L592.30,97.23 L592.50,108.82 L592.70,109.88 L592.90,102.86 L593.10,90.01 L593.30,97.71 L593.50,101.29 L593.70,96.83 L593.90,96.89 L594.10,105.96 L594.30,97.76 L594.50,108.53 L594.70,98.88 L594.90,102.53 L595.10,107.13 L595.30,103.31 L595.50,101.84 L595.70,106.17 L595.90,94.51 L596.10,101.39 L596.30,98.97 L596.50,107.65 L596.70,98.67 L596.90,102.33 L597.10,112.25 L597.30,106.91 L597.50,99.64 L597.70,103.43 L597.90,106.36 L598.10,103.40 L598.30,99.56 L598.50,101.93 L598.70,101.96 L598.90,105.72 L599.10,111.14 L599.30,110.71 L599.50,102.80 L599.70,104.61 L599.90,97.31 L600.10,100.00 L600.30,102.17 L600.50,107.33 L600.70,96.55 L600.90,90.66 L601.10,97.06 L601.30,104.91 L601.50,100.44 L601.70,101.44 L601.90,105.25 L602.10,107.57 L602.30,105.31 L602.50,104.99 L602.70,108.08 L602.90,99.44 L603.10,109.71 L603.30,100.33 L603.50,108.18 L603.70,110.78 L603.90,101.90 L604.10,105.80 L604.30,107.18 L604.50,105.18 L604.70,103.42 L604.90,106.87 L605.10,105.83 L605.30,110.48 L605.50,92.53 L605.70,111.08 L605.90,103.76 L606.10,104.90 L606.30,101.52 L606.50,116.77 L606.70,102.29 L606.90,107.51 L607.10,115.56 L607.30,108.36 L607.50,105.18 L607.70,112.10 L607.90,109.45 L608.10,111.35 L608.30,103.07 L608.50,118.26 L608.70,109.49 L608.90,111.22 L609.10,107.68 L609.30,109.45 L609.50,107.30 L609.70,111.83 L609.90,106.84 L610.10,105.05 L610.30,108.26 L610.50,100.50 L610.70,111.48 L610.90,112.29 L611.10,106.64 L611.30,107.30 L611.50,113.49 L611.70,106.38 L611.90,112.13 L612.10,112.45 L612.30,108.94 L612.50,105.22 L612.70,110.21 L612.90,115.43 L613.10,101.88 L613.30,113.94 L613.50,109.60 L613.70,114.44 L613.90,106.01 L614.10,114.00 L614.30,115.30 L614.50,111.80 L614.70,109.91 L614.90,120.35 L615.10,121.54 L615.30,107.99 L615.50,116.50 L615.70,102.86 L615.90,108.10 L616.10,110.92 L616.30,105.25 L616.50,113.40 L616.70,117.87 L616.90,121.38 L617.10,111.17 L617.30,109.92 L617.50,104.93 L617.70,111.56 L617.90,123.70 L618.10,115.57 L618.30,118.10 L618.50,108.97 L618.70,112.94 L618.90,112.11 L619.10,117.69 L619.30,105.71 L619.50,118.68 L619.70,116.33 L619.90,119.37 L620.10,112.79 L620.30,117.26 L620.50,116.34 L620.70,113.06 L620.90,121.83 L621.10,112.18 L621.30,114.99 L621.50,119.11 L621.70,114.37 L621.90,115.44 L622.10,112.67 L622.30,126.75 L622.50,123.09 L622.70,116.24 L622.90,122.77 L623.10,114.35 L623.30,115.98 L623.50,112.17 L623.70,115.58 L623.90,120.32 L624.10,115.96 L624.30,109.54 L624.50,116.95 L624.70,111.48 L624.90,124.13 L625.10,121.01 L625.30,118.75 L625.50,122.55 L625.70,121.00 L625.90,119.71 L626.10,112.86 L626.30,116.61" fill="none" stroke="#0f7d0f" stroke-width="1.0" stroke-linejoin="bevel"/>
<path d="M408.20,46.70 L412.90,47.10 L416.50,48.60 L420.10,50.80 L423.20,48.70 L427.20,51.90 L431.10,53.00 L437.50,55.80 L440.70,53.90 L444.60,57.40 L448.00,61.50 L451.00,64.60 L455.70,65.00 L461.30,69.30 L465.20,71.70 L468.50,79.00 L471.60,86.80 L477.90,90.70 L480.30,94.70 L484.20,98.60 L487.50,102.00 L490.60,105.00 L493.70,104.20 L497.40,105.30 L499.00,99.00 L500.10,92.30 L501.20,100.00 L502.30,107.00 L505.30,112.80 L508.20,115.80 L510.50,115.00 L513.40,115.80 L516.40,119.30 L518.70,119.60 L522.80,124.50 L529.20,125.10 L532.10,128.00 L536.20,127.80 L540.30,131.80 L542.60,132.50 L545.00,133.90 L550.20,138.50 L553.70,140.00 L557.80,143.80 L560.00,143.80 L564.60,146.90 L567.20,145.30 L568.70,147.40 L572.30,150.40 L580.40,153.00 L590.70,156.10 L600.90,158.10 L614.20,159.80 L615.90,157.40 L617.00,159.80 L618.50,160.30" fill="none" stroke="#2424d0" stroke-width="1.6" stroke-linejoin="round"/>
<line x1="408.5" y1="3.5" x2="408.5" y2="168.3" stroke="#111" stroke-width="1.1"/>
<line x1="408.5" y1="168.3" x2="627.5" y2="168.3" stroke="#111" stroke-width="1.1"/>
<line x1="405.5" y1="168.30" x2="408.5" y2="168.30" stroke="#111" stroke-width="1"/>
<line x1="406.9" y1="153.30" x2="408.5" y2="153.30" stroke="#111" stroke-width="1"/>
<line x1="405.5" y1="138.30" x2="408.5" y2="138.30" stroke="#111" stroke-width="1"/>
<line x1="406.9" y1="123.30" x2="408.5" y2="123.30" stroke="#111" stroke-width="1"/>
<line x1="405.5" y1="108.30" x2="408.5" y2="108.30" stroke="#111" stroke-width="1"/>
<line x1="406.9" y1="93.30" x2="408.5" y2="93.30" stroke="#111" stroke-width="1"/>
<line x1="405.5" y1="78.30" x2="408.5" y2="78.30" stroke="#111" stroke-width="1"/>
<line x1="406.9" y1="63.30" x2="408.5" y2="63.30" stroke="#111" stroke-width="1"/>
<line x1="405.5" y1="48.30" x2="408.5" y2="48.30" stroke="#111" stroke-width="1"/>
<line x1="406.9" y1="33.30" x2="408.5" y2="33.30" stroke="#111" stroke-width="1"/>
<line x1="405.5" y1="18.30" x2="408.5" y2="18.30" stroke="#111" stroke-width="1"/>
<text x="403" y="141.50" font-size="9.2" font-weight="700" text-anchor="end" fill="#222" textLength="25.6" lengthAdjust="spacingAndGlyphs" >10000</text>
<text x="403" y="111.50" font-size="9.2" font-weight="700" text-anchor="end" fill="#222" textLength="25.6" lengthAdjust="spacingAndGlyphs" >20000</text>
<text x="403" y="81.50" font-size="9.2" font-weight="700" text-anchor="end" fill="#222" textLength="25.6" lengthAdjust="spacingAndGlyphs" >30000</text>
<text x="403" y="51.50" font-size="9.2" font-weight="700" text-anchor="end" fill="#222" textLength="25.6" lengthAdjust="spacingAndGlyphs" >40000</text>
<text x="403" y="21.50" font-size="9.2" font-weight="700" text-anchor="end" fill="#222" textLength="25.6" lengthAdjust="spacingAndGlyphs" >50000</text>
<text x="403" y="171.50" font-size="9.2" font-weight="700" text-anchor="end" fill="#222" >0</text>
<line x1="408.50" y1="168.3" x2="408.50" y2="169.9" stroke="#111" stroke-width="1"/>
<line x1="423.10" y1="168.3" x2="423.10" y2="171.3" stroke="#111" stroke-width="1"/>
<line x1="437.70" y1="168.3" x2="437.70" y2="169.9" stroke="#111" stroke-width="1"/>
<line x1="452.30" y1="168.3" x2="452.30" y2="171.3" stroke="#111" stroke-width="1"/>
<line x1="466.90" y1="168.3" x2="466.90" y2="169.9" stroke="#111" stroke-width="1"/>
<line x1="481.50" y1="168.3" x2="481.50" y2="171.3" stroke="#111" stroke-width="1"/>
<line x1="496.10" y1="168.3" x2="496.10" y2="169.9" stroke="#111" stroke-width="1"/>
<line x1="510.70" y1="168.3" x2="510.70" y2="171.3" stroke="#111" stroke-width="1"/>
<line x1="525.30" y1="168.3" x2="525.30" y2="169.9" stroke="#111" stroke-width="1"/>
<line x1="539.90" y1="168.3" x2="539.90" y2="171.3" stroke="#111" stroke-width="1"/>
<line x1="554.50" y1="168.3" x2="554.50" y2="169.9" stroke="#111" stroke-width="1"/>
<line x1="569.10" y1="168.3" x2="569.10" y2="171.3" stroke="#111" stroke-width="1"/>
<line x1="583.70" y1="168.3" x2="583.70" y2="169.9" stroke="#111" stroke-width="1"/>
<line x1="598.30" y1="168.3" x2="598.30" y2="171.3" stroke="#111" stroke-width="1"/>
<line x1="612.90" y1="168.3" x2="612.90" y2="169.9" stroke="#111" stroke-width="1"/>
<line x1="627.50" y1="168.3" x2="627.50" y2="171.3" stroke="#111" stroke-width="1"/>
<text x="423.10" y="180.8" font-size="9.2" font-weight="700" text-anchor="middle" fill="#222" >600</text>
<text x="452.30" y="180.8" font-size="9.2" font-weight="700" text-anchor="middle" fill="#222" >800</text>
<text x="481.50" y="180.8" font-size="9.2" font-weight="700" text-anchor="middle" fill="#222" >1000</text>
<text x="510.70" y="180.8" font-size="9.2" font-weight="700" text-anchor="middle" fill="#222" >1200</text>
<text x="539.90" y="180.8" font-size="9.2" font-weight="700" text-anchor="middle" fill="#222" >1400</text>
<text x="569.10" y="180.8" font-size="9.2" font-weight="700" text-anchor="middle" fill="#222" >1600</text>
<text x="598.30" y="180.8" font-size="9.2" font-weight="700" text-anchor="middle" fill="#222" >1800</text>
<text x="627.50" y="180.8" font-size="9.2" font-weight="700" text-anchor="middle" fill="#222" >2000</text>
<text x="458" y="197.5" font-size="12.7" font-weight="400" text-anchor="start" fill="#222" textLength="100.4" lengthAdjust="spacingAndGlyphs" >Raman Shift(cm<tspan font-size="8" dy="-5">-1</tspan><tspan dy="5">)</tspan></text>
<text x="367.2" y="94" font-size="12.6" font-weight="400" text-anchor="middle" fill="#222" textLength="80" lengthAdjust="spacingAndGlyphs" transform="rotate(-90 367.2 94)">Intensity (a.u.)</text>
<text x="356.5" y="29.1" font-size="21" font-weight="400" text-anchor="start" fill="#000" >b</text>
<text x="534.8" y="18.6" font-size="14.5" font-weight="400" text-anchor="start" fill="#111" textLength="67" lengthAdjust="spacingAndGlyphs" >Sudan red</text>
<text x="545.4" y="57.2" font-size="15" font-weight="400" text-anchor="start" fill="#111" textLength="59.5" lengthAdjust="spacingAndGlyphs" >3.0 mg/L</text>
<text x="517.4" y="162.3" font-size="15" font-weight="400" text-anchor="start" fill="#111" textLength="59.9" lengthAdjust="spacingAndGlyphs" >0.3 mg/L</text>
<line x1="572.5" y1="57.8" x2="565.2" y2="72.5" stroke="#222" stroke-width="0.7"/>
<path d="M564.7,73.5 L564.6,69.8 L567.0,71.0 Z" fill="#222"/>
<line x1="526.6" y1="143.8" x2="527.8" y2="129.5" stroke="#333" stroke-width="0.7"/>
<path d="M528.0,127.2 L526.3,131.2 L529.6,131.4 Z" fill="#111"/>
<path d="M629.2,113.6 L638.4,122.8 M638.4,113.6 L629.2,122.8" stroke="#222" stroke-width="1"/>
<text x="641.6" y="124.2" font-size="16" font-weight="400" text-anchor="start" fill="#111" textLength="18" lengthAdjust="spacingAndGlyphs" >30</text>
</g>
<g id="pc">
<rect x="76.5" y="246.1" width="9.7" height="157" fill="#fdebc9"/>
<rect x="107.7" y="241.8" width="40.8" height="161.4" fill="#fdebc9"/>
<line x1="0.8" y1="403.3" x2="239.6" y2="403.3" stroke="#444" stroke-width="1"/>
<line x1="0.94" y1="403.3" x2="0.94" y2="405.3" stroke="#444" stroke-width="1"/>
<line x1="19.30" y1="403.3" x2="19.30" y2="406.6" stroke="#444" stroke-width="1"/>
<line x1="37.66" y1="403.3" x2="37.66" y2="405.3" stroke="#444" stroke-width="1"/>
<line x1="56.02" y1="403.3" x2="56.02" y2="406.6" stroke="#444" stroke-width="1"/>
<line x1="74.38" y1="403.3" x2="74.38" y2="405.3" stroke="#444" stroke-width="1"/>
<line x1="92.73" y1="403.3" x2="92.73" y2="406.6" stroke="#444" stroke-width="1"/>
<line x1="111.09" y1="403.3" x2="111.09" y2="405.3" stroke="#444" stroke-width="1"/>
<line x1="129.45" y1="403.3" x2="129.45" y2="406.6" stroke="#444" stroke-width="1"/>
<line x1="147.81" y1="403.3" x2="147.81" y2="405.3" stroke="#444" stroke-width="1"/>
<line x1="166.17" y1="403.3" x2="166.17" y2="406.6" stroke="#444" stroke-width="1"/>
<line x1="184.52" y1="403.3" x2="184.52" y2="405.3" stroke="#444" stroke-width="1"/>
<line x1="202.88" y1="403.3" x2="202.88" y2="406.6" stroke="#444" stroke-width="1"/>
<line x1="221.24" y1="403.3" x2="221.24" y2="405.3" stroke="#444" stroke-width="1"/>
<line x1="239.60" y1="403.3" x2="239.60" y2="406.6" stroke="#444" stroke-width="1"/>
<text x="19.30" y="417.3" font-size="10.4" font-weight="400" text-anchor="middle" fill="#333" >800</text>
<text x="56.02" y="417.3" font-size="10.4" font-weight="400" text-anchor="middle" fill="#333" >1000</text>
<text x="92.73" y="417.3" font-size="10.4" font-weight="400" text-anchor="middle" fill="#333" >1200</text>
<text x="129.45" y="417.3" font-size="10.4" font-weight="400" text-anchor="middle" fill="#333" >1400</text>
<text x="166.17" y="417.3" font-size="10.4" font-weight="400" text-anchor="middle" fill="#333" >1600</text>
<text x="202.88" y="417.3" font-size="10.4" font-weight="400" text-anchor="middle" fill="#333" >1800</text>
<text x="239.60" y="417.3" font-size="10.4" font-weight="400" text-anchor="middle" fill="#333" >2000</text>
<text x="70.2" y="438.6" font-size="12.3" font-weight="400" text-anchor="start" fill="#222" textLength="100.2" lengthAdjust="spacingAndGlyphs" >Raman Shift (cm<tspan font-size="7.5" dy="-5">-1</tspan><tspan dy="5">)</tspan></text>
<line x1="29.7" y1="272.3" x2="29.7" y2="302.5" stroke="#222" stroke-width="1.2"/>
<line x1="27.9" y1="272.3" x2="31.5" y2="272.3" stroke="#222" stroke-width="1"/>
<line x1="27.9" y1="302.5" x2="31.5" y2="302.5" stroke="#222" stroke-width="1"/>
<text x="5" y="293" font-size="10.4" font-weight="400" text-anchor="start" fill="#222" textLength="17" lengthAdjust="spacingAndGlyphs" >500</text>
<text x="186.6" y="257.0" font-size="21" font-weight="400" text-anchor="start" fill="#000" textLength="9.1" lengthAdjust="spacingAndGlyphs" stroke="#000" stroke-width="0.45">c</text>
<path d="M0.50,396.37 L0.99,396.95 L1.58,397.20 L2.27,396.71 L3.05,396.46 L3.90,396.94 L4.82,397.18 L5.78,397.44 L6.80,396.67 L7.85,396.68 L8.92,397.42 L10.00,397.37 L10.68,397.76 L11.41,397.58 L12.16,397.23 L12.94,397.19 L13.75,398.21 L14.58,397.24 L15.42,397.09 L16.27,396.99 L17.13,397.45 L17.99,397.48 L18.85,397.33 L19.70,397.44 L20.54,397.56 L21.36,397.71 L22.16,397.85 L22.94,397.52 L23.69,396.80 L24.40,397.65 L25.33,396.85 L26.21,397.21 L27.04,396.67 L27.83,397.08 L28.60,396.70 L29.36,396.92 L30.10,397.88 L30.86,396.58 L31.62,396.76 L32.41,395.88 L33.23,396.12 L34.09,396.34 L35.00,395.97 L35.74,396.05 L36.51,395.87 L37.32,395.40 L38.15,395.86 L38.99,395.29 L39.86,396.14 L40.73,395.22 L41.60,395.54 L42.48,395.22 L43.35,395.48 L44.22,394.86 L45.06,395.35 L45.89,394.90 L46.69,395.33 L47.46,395.07 L48.20,394.87 L48.90,394.53 L49.90,395.06 L50.83,394.97 L51.69,395.41 L52.51,394.76 L53.29,395.15 L54.05,395.21 L54.80,395.23 L55.55,395.31 L56.33,395.41 L57.14,395.26 L58.00,395.24 L58.75,395.58 L59.52,396.07 L60.29,396.55 L61.06,396.53 L61.85,396.73 L62.64,396.81 L63.45,396.97 L64.25,396.97 L65.07,397.36 L65.89,397.88 L66.72,397.30 L67.56,397.32 L68.40,398.39 L69.19,397.90 L70.00,398.25 L70.82,398.31 L71.64,397.70 L72.47,399.03 L73.31,398.87 L74.16,398.39 L75.00,398.66 L75.84,398.51 L76.69,398.22 L77.53,398.56 L78.36,398.79 L79.18,399.12 L80.00,399.05 L80.85,398.90 L81.66,399.44 L82.44,398.78 L83.20,399.42 L83.95,399.61 L84.71,399.21 L85.48,398.76 L86.29,399.15 L87.13,399.62 L88.02,399.78 L88.97,400.18 L89.99,399.33 L91.10,399.70 L91.76,399.93 L92.44,399.66 L93.14,398.88 L93.86,399.99 L94.60,400.51 L95.35,400.05 L96.11,399.36 L96.90,399.52 L97.69,399.73 L98.50,400.50 L99.33,399.83 L100.16,399.63 L101.01,400.11 L101.87,399.50 L102.74,400.15 L103.62,399.23 L104.51,399.27 L105.41,399.65 L106.31,399.86 L107.23,399.55 L108.14,399.39 L109.07,398.61 L110.00,398.95 L110.73,398.95 L111.49,398.94 L112.27,399.29 L113.08,398.92 L113.91,399.26 L114.76,398.96 L115.63,398.75 L116.50,398.85 L117.39,398.90 L118.29,398.99 L119.19,398.46 L120.10,398.48 L121.00,398.02 L121.91,398.99 L122.81,398.88 L123.70,398.24 L124.58,398.08 L125.45,397.75 L126.31,398.18 L127.14,398.14 L127.96,398.78 L128.76,398.05 L129.53,397.64 L130.27,397.01 L130.98,398.32 L131.66,397.86 L132.31,397.20 L132.91,397.80 L133.48,397.15 L134.00,398.92 L135.68,398.09 L136.62,397.96 L137.10,397.82 L137.39,397.29 L137.79,398.16 L138.57,397.82 L140.00,398.71 L140.53,397.78 L141.07,398.25 L141.62,399.02 L142.19,399.20 L142.78,398.24 L143.39,398.15 L144.02,399.03 L144.67,399.05 L145.34,398.44 L146.03,398.57 L146.75,398.60 L147.49,398.46 L148.26,398.67 L149.06,399.38 L149.89,399.21 L150.74,399.72 L151.63,399.01 L152.55,399.02 L153.51,398.76 L154.50,399.09 L155.52,398.71 L156.58,398.58 L157.68,399.48 L158.82,399.77 L160.00,399.59 L160.61,399.78 L161.23,399.42 L161.87,399.10 L162.52,399.40 L163.19,399.26 L163.87,399.01 L164.57,398.83 L165.28,398.92 L165.99,399.46 L166.73,399.53 L167.47,399.33 L168.22,400.01 L168.99,399.59 L169.76,399.75 L170.54,399.99 L171.33,399.30 L172.13,398.91 L172.94,399.88 L173.76,399.40 L174.58,400.12 L175.41,399.79 L176.24,400.05 L177.08,399.98 L177.93,399.00 L178.78,400.00 L179.63,399.53 L180.48,399.52 L181.34,399.65 L182.21,400.09 L183.07,400.15 L183.93,400.21 L184.80,399.30 L185.67,399.69 L186.53,399.08 L187.40,399.90 L188.26,400.16 L189.13,399.70 L189.99,400.07 L190.85,400.09 L191.71,400.38 L192.56,399.76 L193.41,399.77 L194.25,399.81 L195.09,400.71 L195.93,400.50 L196.75,400.09 L197.58,400.23 L198.39,400.21 L199.20,400.25 L200.00,400.13 L200.82,400.10 L201.66,399.80 L202.50,400.03 L203.37,400.85 L204.24,400.48 L205.13,400.33 L206.02,400.25 L206.93,400.37 L207.84,400.49 L208.76,400.16 L209.69,400.47 L210.62,400.51 L211.56,400.18 L212.50,400.18 L213.44,400.13 L214.38,400.13 L215.32,400.83 L216.27,399.71 L217.21,400.46 L218.14,400.36 L219.08,400.37 L220.01,400.64 L220.93,401.02 L221.84,400.67 L222.75,400.62 L223.65,400.47 L224.54,400.66 L225.42,401.04 L226.29,400.60 L227.14,400.35 L227.98,400.33 L228.81,400.40 L229.62,400.32 L230.41,401.20 L231.18,400.96 L231.94,400.76 L232.68,401.37 L233.39,400.65 L234.08,401.15 L234.76,401.18 L235.40,400.38 L236.02,400.38 L236.62,400.62 L237.19,401.27 L237.73,401.42 L238.24,400.54 L238.73,401.35 L239.18,400.86 L239.60,401.00" fill="none" stroke="#1a1a1a" stroke-width="1.5" stroke-linejoin="round"/>
<path d="M0.50,390.40 C1.75,390.43 5.37,390.53 8.00,390.60 C10.63,390.67 12.97,390.93 16.30,390.80 C19.63,390.67 24.20,390.15 28.00,389.80 C31.80,389.45 35.77,389.08 39.10,388.70 C42.43,388.32 45.28,387.85 48.00,387.50 C50.72,387.15 53.73,386.60 55.40,386.60 C57.07,386.60 56.92,387.15 58.00,387.50 C59.08,387.85 60.73,389.03 61.90,388.70 C63.07,388.37 64.15,387.28 65.00,385.50 C65.85,383.72 66.30,379.92 67.00,378.00 C67.70,376.08 68.57,374.17 69.20,374.00 C69.83,373.83 70.25,375.08 70.80,377.00 C71.35,378.92 71.67,383.12 72.50,385.50 C73.33,387.88 74.55,390.22 75.80,391.30 C77.05,392.38 78.63,391.97 80.00,392.00 C81.37,392.03 82.77,392.08 84.00,391.50 C85.23,390.92 86.48,388.58 87.40,388.50 C88.32,388.42 88.55,390.32 89.50,391.00 C90.45,391.68 90.52,392.47 93.10,392.60 C95.68,392.73 101.35,392.07 105.00,391.80 C108.65,391.53 111.53,391.27 115.00,391.00 C118.47,390.73 122.47,390.23 125.80,390.20 C129.13,390.17 131.80,390.77 135.00,390.80 C138.20,390.83 141.42,390.50 145.00,390.40 C148.58,390.30 154.17,390.68 156.50,390.20 C158.83,389.72 158.25,388.95 159.00,387.50 C159.75,386.05 160.40,382.87 161.00,381.50 C161.60,380.13 162.07,379.05 162.60,379.30 C163.13,379.55 163.63,381.38 164.20,383.00 C164.77,384.62 165.42,387.58 166.00,389.00 C166.58,390.42 166.70,390.67 167.70,391.50 C168.70,392.33 169.95,393.18 172.00,394.00 C174.05,394.82 177.00,395.73 180.00,396.40 C183.00,397.07 186.67,397.57 190.00,398.00 C193.33,398.43 195.83,398.73 200.00,399.00 C204.17,399.27 208.40,399.33 215.00,399.60 C221.60,399.87 235.50,400.43 239.60,400.60" fill="none" stroke="#2222d8" stroke-width="1.8"/>
<path d="M1.00,379.00 C1.20,378.72 1.70,377.22 2.20,377.30 C2.70,377.38 3.28,378.55 4.00,379.50 C4.72,380.45 5.17,382.50 6.50,383.00 C7.83,383.50 10.42,382.75 12.00,382.50 C13.58,382.25 14.47,381.73 16.00,381.50 C17.53,381.27 19.53,380.85 21.20,381.10 C22.87,381.35 24.37,382.47 26.00,383.00 C27.63,383.53 29.50,384.47 31.00,384.30 C32.50,384.13 33.65,382.70 35.00,382.00 C36.35,381.30 37.60,380.18 39.10,380.10 C40.60,380.02 42.37,381.28 44.00,381.50 C45.63,381.72 47.57,381.73 48.90,381.40 C50.23,381.07 51.07,380.40 52.00,379.50 C52.93,378.60 53.80,377.03 54.50,376.00 C55.20,374.97 55.65,373.22 56.20,373.30 C56.75,373.38 57.27,375.55 57.80,376.50 C58.33,377.45 58.78,378.92 59.40,379.00 C60.02,379.08 60.85,378.83 61.50,377.00 C62.15,375.17 62.72,372.50 63.30,368.00 C63.88,363.50 64.52,356.17 65.00,350.00 C65.48,343.83 65.83,337.17 66.20,331.00 C66.57,324.83 66.93,317.75 67.20,313.00 C67.47,308.25 67.57,304.75 67.80,302.50 C68.03,300.25 68.32,299.42 68.60,299.50 C68.88,299.58 69.18,300.25 69.50,303.00 C69.82,305.75 70.17,311.40 70.50,316.00 C70.83,320.60 71.15,324.60 71.50,330.60 C71.85,336.60 72.13,345.60 72.60,352.00 C73.07,358.40 73.73,366.67 74.30,369.00 C74.87,371.33 75.45,370.83 76.00,366.00 C76.55,361.17 77.22,347.33 77.60,340.00 C77.98,332.67 78.07,327.35 78.30,322.00 C78.53,316.65 78.72,315.73 79.00,307.90 C79.28,300.07 79.73,282.65 80.00,275.00 C80.27,267.35 80.40,265.00 80.60,262.00 C80.80,259.00 80.98,257.00 81.20,257.00 C81.42,257.00 81.65,258.17 81.90,262.00 C82.15,265.83 82.35,272.35 82.70,280.00 C83.05,287.65 83.60,297.90 84.00,307.90 C84.40,317.90 84.77,332.32 85.10,340.00 C85.43,347.68 85.68,350.68 86.00,354.00 C86.32,357.32 86.58,360.07 87.00,359.90 C87.42,359.73 87.98,354.62 88.50,353.00 C89.02,351.38 89.55,349.53 90.10,350.20 C90.65,350.87 91.23,354.03 91.80,357.00 C92.37,359.97 92.60,365.25 93.50,368.00 C94.40,370.75 95.95,372.50 97.20,373.50 C98.45,374.50 99.63,373.88 101.00,374.00 C102.37,374.12 104.23,374.95 105.40,374.20 C106.57,373.45 107.23,371.62 108.00,369.50 C108.77,367.38 109.42,363.35 110.00,361.50 C110.58,359.65 111.00,358.23 111.50,358.40 C112.00,358.57 112.48,361.58 113.00,362.50 C113.52,363.42 113.93,364.23 114.60,363.90 C115.27,363.57 116.18,361.82 117.00,360.50 C117.82,359.18 118.80,357.58 119.50,356.00 C120.20,354.42 120.65,353.17 121.20,351.00 C121.75,348.83 122.40,346.00 122.80,343.00 C123.20,340.00 123.32,337.83 123.60,333.00 C123.88,328.17 124.13,320.17 124.50,314.00 C124.87,307.83 125.38,299.95 125.80,296.00 C126.22,292.05 126.60,290.47 127.00,290.30 C127.40,290.13 127.82,290.05 128.20,295.00 C128.58,299.95 128.95,310.55 129.30,320.00 C129.65,329.45 130.02,349.20 130.30,351.70 C130.58,354.20 130.72,346.07 131.00,335.00 C131.28,323.93 131.63,297.47 132.00,285.30 C132.37,273.13 132.83,268.22 133.20,262.00 C133.57,255.78 133.88,251.22 134.20,248.00 C134.52,244.78 134.78,242.53 135.10,242.70 C135.42,242.87 135.65,241.90 136.10,249.00 C136.55,256.10 137.32,270.97 137.80,285.30 C138.28,299.63 138.62,323.60 139.00,335.00 C139.38,346.40 139.60,350.03 140.10,353.70 C140.60,357.37 141.35,355.62 142.00,357.00 C142.65,358.38 143.28,360.40 144.00,362.00 C144.72,363.60 145.47,365.60 146.30,366.60 C147.13,367.60 147.98,367.60 149.00,368.00 C150.02,368.40 151.40,369.33 152.40,369.00 C153.40,368.67 154.18,368.83 155.00,366.00 C155.82,363.17 156.67,356.83 157.30,352.00 C157.93,347.17 158.35,341.50 158.80,337.00 C159.25,332.50 159.63,327.50 160.00,325.00 C160.37,322.50 160.67,321.92 161.00,322.00 C161.33,322.08 161.60,322.17 162.00,325.50 C162.40,328.83 162.90,335.42 163.40,342.00 C163.90,348.58 164.45,358.97 165.00,365.00 C165.55,371.03 165.87,375.37 166.70,378.20 C167.53,381.03 168.62,380.78 170.00,382.00 C171.38,383.22 173.33,384.60 175.00,385.50 C176.67,386.40 177.50,386.82 180.00,387.40 C182.50,387.98 186.67,388.53 190.00,389.00 C193.33,389.47 196.67,389.78 200.00,390.20 C203.33,390.62 206.67,391.12 210.00,391.50 C213.33,391.88 216.67,392.15 220.00,392.50 C223.33,392.85 226.73,393.28 230.00,393.60 C233.27,393.92 238.00,394.27 239.60,394.40" fill="none" stroke="#e01820" stroke-width="1.8"/>
<line x1="179.9" y1="344.3" x2="204.2" y2="344.3" stroke="#e01820" stroke-width="1.6"/>
<line x1="179.9" y1="357.3" x2="204.2" y2="357.3" stroke="#2222d8" stroke-width="1.6"/>
<line x1="179.9" y1="370.5" x2="204.2" y2="370.5" stroke="#1a1a1a" stroke-width="1.6"/>
<text x="206.4" y="348.2" font-size="11" font-weight="400" text-anchor="start" fill="#222" >1</text>
<text x="206.4" y="361.2" font-size="11" font-weight="400" text-anchor="start" fill="#222" >2</text>
<text x="206.4" y="374.4" font-size="11" font-weight="400" text-anchor="start" fill="#222" >3</text>
</g>
<g id="dc">
<text x="238.2" y="238.2" font-size="11" font-weight="400" text-anchor="start" fill="#1a1a1a" textLength="133.1" lengthAdjust="spacingAndGlyphs" >1) Ag film + <tspan font-style="italic">p</tspan>-ATP +Ag NPs</text>
<rect x="249.2" y="267.8" width="114.4" height="11.6" fill="#ffc000"/>
<rect x="249.2" y="279.4" width="114.4" height="10.8" fill="#b4c7e7"/>
<path d="M251.5,265.0 a1.2,1.2 0 1 1 0.2,1.6" fill="none" stroke="#3aa83a" stroke-width="0.8"/><path d="M256.0,265.0 a1.2,1.2 0 1 1 0.2,1.6" fill="none" stroke="#3aa83a" stroke-width="0.8"/><path d="M260.5,265.0 a1.2,1.2 0 1 1 0.2,1.6" fill="none" stroke="#3aa83a" stroke-width="0.8"/><path d="M265.0,265.0 a1.2,1.2 0 1 1 0.2,1.6" fill="none" stroke="#3aa83a" stroke-width="0.8"/><path d="M269.5,265.0 a1.2,1.2 0 1 1 0.2,1.6" fill="none" stroke="#3aa83a" stroke-width="0.8"/><path d="M274.0,265.0 a1.2,1.2 0 1 1 0.2,1.6" fill="none" stroke="#3aa83a" stroke-width="0.8"/><path d="M278.5,265.0 a1.2,1.2 0 1 1 0.2,1.6" fill="none" stroke="#3aa83a" stroke-width="0.8"/><path d="M283.0,265.0 a1.2,1.2 0 1 1 0.2,1.6" fill="none" stroke="#3aa83a" stroke-width="0.8"/><path d="M287.5,265.0 a1.2,1.2 0 1 1 0.2,1.6" fill="none" stroke="#3aa83a" stroke-width="0.8"/><path d="M292.0,265.0 a1.2,1.2 0 1 1 0.2,1.6" fill="none" stroke="#3aa83a" stroke-width="0.8"/><path d="M296.5,265.0 a1.2,1.2 0 1 1 0.2,1.6" fill="none" stroke="#3aa83a" stroke-width="0.8"/><path d="M301.0,265.0 a1.2,1.2 0 1 1 0.2,1.6" fill="none" stroke="#3aa83a" stroke-width="0.8"/><path d="M305.5,265.0 a1.2,1.2 0 1 1 0.2,1.6" fill="none" stroke="#3aa83a" stroke-width="0.8"/><path d="M310.0,265.0 a1.2,1.2 0 1 1 0.2,1.6" fill="none" stroke="#3aa83a" stroke-width="0.8"/><path d="M314.5,265.0 a1.2,1.2 0 1 1 0.2,1.6" fill="none" stroke="#3aa83a" stroke-width="0.8"/><path d="M319.0,265.0 a1.2,1.2 0 1 1 0.2,1.6" fill="none" stroke="#3aa83a" stroke-width="0.8"/><path d="M323.5,265.0 a1.2,1.2 0 1 1 0.2,1.6" fill="none" stroke="#3aa83a" stroke-width="0.8"/><path d="M328.0,265.0 a1.2,1.2 0 1 1 0.2,1.6" fill="none" stroke="#3aa83a" stroke-width="0.8"/><path d="M332.5,265.0 a1.2,1.2 0 1 1 0.2,1.6" fill="none" stroke="#3aa83a" stroke-width="0.8"/><path d="M337.0,265.0 a1.2,1.2 0 1 1 0.2,1.6" fill="none" stroke="#3aa83a" stroke-width="0.8"/><path d="M341.5,265.0 a1.2,1.2 0 1 1 0.2,1.6" fill="none" stroke="#3aa83a" stroke-width="0.8"/><path d="M346.0,265.0 a1.2,1.2 0 1 1 0.2,1.6" fill="none" stroke="#3aa83a" stroke-width="0.8"/><path d="M350.5,265.0 a1.2,1.2 0 1 1 0.2,1.6" fill="none" stroke="#3aa83a" stroke-width="0.8"/><path d="M355.0,265.0 a1.2,1.2 0 1 1 0.2,1.6" fill="none" stroke="#3aa83a" stroke-width="0.8"/><path d="M359.5,265.0 a1.2,1.2 0 1 1 0.2,1.6" fill="none" stroke="#3aa83a" stroke-width="0.8"/>
<circle cx="282.6" cy="256.1" r="8" fill="#ffc000"/><text x="282.6" y="259.90000000000003" font-size="11" font-weight="400" text-anchor="middle" fill="#1a1a1a" >Ag</text>
<rect x="281.0" y="263.4" width="3.2" height="4.4" fill="#b85a48"/>
<circle cx="305.9" cy="256.1" r="8" fill="#ffc000"/>
<rect x="304.29999999999995" y="263.4" width="3.2" height="4.4" fill="#b85a48"/>
<circle cx="331.1" cy="256.1" r="8" fill="#ffc000"/>
<rect x="329.5" y="263.4" width="3.2" height="4.4" fill="#b85a48"/>
<text x="255.9" y="279.0" font-size="10.8" font-weight="400" text-anchor="start" fill="#1a1a1a" textLength="12.8" lengthAdjust="spacingAndGlyphs" >Ag</text>
<text x="332.8" y="289.0" font-size="11" font-weight="400" text-anchor="start" fill="#1a1a1a" textLength="28" lengthAdjust="spacingAndGlyphs" >Prism</text>
<text x="259.9" y="305.2" font-size="11" font-weight="400" text-anchor="start" fill="#1a1a1a" textLength="85.7" lengthAdjust="spacingAndGlyphs" >2) Ag NPs +<tspan font-style="italic">p</tspan>-ATP</text>
<circle cx="284.2" cy="316.0" r="8.2" fill="#ffc000"/><text x="284.2" y="319.8" font-size="11" font-weight="400" text-anchor="middle" fill="#1a1a1a" >Ag</text>
<rect x="282.4" y="323.3" width="3.6" height="4" fill="#d84040"/>
<circle cx="307.6" cy="316.0" r="8.2" fill="#ffc000"/>
<rect x="305.8" y="323.3" width="3.6" height="4" fill="#d84040"/>
<circle cx="332.3" cy="316.0" r="8.2" fill="#ffc000"/>
<rect x="330.5" y="323.3" width="3.6" height="4" fill="#d84040"/>
<path d="M262.20,326.00 L262.70,326.68 L263.20,327.00 L263.70,326.78 L264.20,326.15 L264.70,325.44 L265.20,325.03 L265.70,325.13 L266.20,325.71 L266.70,326.43 L267.20,326.93 L267.70,326.93 L268.20,326.43 L268.70,325.71 L269.20,325.13 L269.70,325.03 L270.20,325.44 L270.70,326.15 L271.20,326.78 L271.70,327.00 L272.20,326.68 L272.70,326.00 L273.20,325.32 L273.70,325.00 L274.20,325.22 L274.70,325.85 L275.20,326.56 L275.70,326.97 L276.20,326.87 L276.70,326.29 L277.20,325.57 L277.70,325.07 L278.20,325.07 L278.70,325.57 L279.20,326.29 L279.70,326.87 L280.20,326.97 L280.70,326.56 L281.20,325.85 L281.70,325.22 L282.20,325.00 L282.70,325.32 L283.20,326.00 L283.70,326.68 L284.20,327.00 L284.70,326.78 L285.20,326.15 L285.70,325.44 L286.20,325.03 L286.70,325.13 L287.20,325.71 L287.70,326.43 L288.20,326.93 L288.70,326.93 L289.20,326.43 L289.70,325.71 L290.20,325.13 L290.70,325.03 L291.20,325.44 L291.70,326.15 L292.20,326.78 L292.70,327.00 L293.20,326.68 L293.70,326.00 L294.20,325.32 L294.70,325.00 L295.20,325.22 L295.70,325.85 L296.20,326.56 L296.70,326.97 L297.20,326.87 L297.70,326.29 L298.20,325.57 L298.70,325.07 L299.20,325.07 L299.70,325.57 L300.20,326.29 L300.70,326.87 L301.20,326.97 L301.70,326.56 L302.20,325.85 L302.70,325.22 L303.20,325.00 L303.70,325.32 L304.20,326.00 L304.70,326.68 L305.20,327.00 L305.70,326.78 L306.20,326.15 L306.70,325.44 L307.20,325.03 L307.70,325.13 L308.20,325.71 L308.70,326.43 L309.20,326.93 L309.70,326.93 L310.20,326.43 L310.70,325.71 L311.20,325.13 L311.70,325.03 L312.20,325.44 L312.70,326.15 L313.20,326.78 L313.70,327.00 L314.20,326.68 L314.70,326.00 L315.20,325.32 L315.70,325.00 L316.20,325.22 L316.70,325.85 L317.20,326.56 L317.70,326.97 L318.20,326.87 L318.70,326.29 L319.20,325.57 L319.70,325.07 L320.20,325.07 L320.70,325.57 L321.20,326.29 L321.70,326.87 L322.20,326.97 L322.70,326.56 L323.20,325.85 L323.70,325.22 L324.20,325.00 L324.70,325.32 L325.20,326.00 L325.70,326.68 L326.20,327.00 L326.70,326.78 L327.20,326.15 L327.70,325.44 L328.20,325.03 L328.70,325.13 L329.20,325.71 L329.70,326.43 L330.20,326.93 L330.70,326.93 L331.20,326.43 L331.70,325.71 L332.20,325.13 L332.70,325.03 L333.20,325.44 L333.70,326.15 L334.20,326.78 L334.70,327.00 L335.20,326.68 L335.70,326.00 L336.20,325.32 L336.70,325.00 L337.20,325.22 L337.70,325.85 L338.20,326.56 L338.70,326.97 L339.20,326.87 L339.70,326.29 L340.20,325.57 L340.70,325.07 L341.20,325.07 L341.70,325.57 L342.20,326.29 L342.70,326.87 L343.20,326.97 L343.70,326.56 L344.20,325.85 L344.70,325.22 L345.20,325.00 L345.70,325.32 L346.20,326.00 L346.70,326.68 L347.20,327.00 L347.70,326.78 L348.20,326.15 L348.70,325.44 L349.20,325.03 L349.70,325.13 L350.20,325.71 L350.70,326.43 L351.20,326.93 L351.70,326.93 L352.20,326.43 L352.70,325.71 L353.20,325.13 L353.70,325.03 L354.20,325.44 L354.70,326.15 L355.20,326.78 L355.70,327.00" fill="none" stroke="#3aa83a" stroke-width="0.8"/>
<rect x="250.6" y="327.8" width="114.4" height="21.8" fill="#b4c7e7"/>
<text x="335.1" y="348.6" font-size="11" font-weight="400" text-anchor="start" fill="#1a1a1a" textLength="28.5" lengthAdjust="spacingAndGlyphs" >Prism</text>
<text x="259.9" y="371.2" font-size="11" font-weight="400" text-anchor="start" fill="#1a1a1a" textLength="89.2" lengthAdjust="spacingAndGlyphs" >3) Ag film + <tspan font-style="italic">p</tspan>-ATP</text>
<defs><linearGradient id="pk" x1="0" y1="0" x2="0" y2="1"><stop offset="0" stop-color="#fff6f4"/><stop offset="0.5" stop-color="#f9c0b8"/><stop offset="1" stop-color="#ee7272"/></linearGradient></defs>
<rect x="249.9" y="376" width="113.7" height="7.6" fill="url(#pk)"/>
<path d="M252.5,379.9 a1.2,1.2 0 1 1 0.2,1.7" fill="none" stroke="#707040" stroke-width="0.9"/><path d="M257.4,379.9 a1.2,1.2 0 1 1 0.2,1.7" fill="none" stroke="#707040" stroke-width="0.9"/><path d="M262.4,379.9 a1.2,1.2 0 1 1 0.2,1.7" fill="none" stroke="#707040" stroke-width="0.9"/><path d="M267.3,379.9 a1.2,1.2 0 1 1 0.2,1.7" fill="none" stroke="#707040" stroke-width="0.9"/><path d="M272.3,379.9 a1.2,1.2 0 1 1 0.2,1.7" fill="none" stroke="#707040" stroke-width="0.9"/><path d="M277.2,379.9 a1.2,1.2 0 1 1 0.2,1.7" fill="none" stroke="#707040" stroke-width="0.9"/><path d="M282.2,379.9 a1.2,1.2 0 1 1 0.2,1.7" fill="none" stroke="#707040" stroke-width="0.9"/><path d="M287.1,379.9 a1.2,1.2 0 1 1 0.2,1.7" fill="none" stroke="#707040" stroke-width="0.9"/><path d="M292.1,379.9 a1.2,1.2 0 1 1 0.2,1.7" fill="none" stroke="#707040" stroke-width="0.9"/><path d="M297.0,379.9 a1.2,1.2 0 1 1 0.2,1.7" fill="none" stroke="#707040" stroke-width="0.9"/><path d="M302.0,379.9 a1.2,1.2 0 1 1 0.2,1.7" fill="none" stroke="#707040" stroke-width="0.9"/><path d="M306.9,379.9 a1.2,1.2 0 1 1 0.2,1.7" fill="none" stroke="#707040" stroke-width="0.9"/><path d="M311.9,379.9 a1.2,1.2 0 1 1 0.2,1.7" fill="none" stroke="#707040" stroke-width="0.9"/><path d="M316.8,379.9 a1.2,1.2 0 1 1 0.2,1.7" fill="none" stroke="#707040" stroke-width="0.9"/><path d="M321.8,379.9 a1.2,1.2 0 1 1 0.2,1.7" fill="none" stroke="#707040" stroke-width="0.9"/><path d="M326.7,379.9 a1.2,1.2 0 1 1 0.2,1.7" fill="none" stroke="#707040" stroke-width="0.9"/><path d="M331.7,379.9 a1.2,1.2 0 1 1 0.2,1.7" fill="none" stroke="#707040" stroke-width="0.9"/><path d="M336.6,379.9 a1.2,1.2 0 1 1 0.2,1.7" fill="none" stroke="#707040" stroke-width="0.9"/><path d="M341.6,379.9 a1.2,1.2 0 1 1 0.2,1.7" fill="none" stroke="#707040" stroke-width="0.9"/><path d="M346.5,379.9 a1.2,1.2 0 1 1 0.2,1.7" fill="none" stroke="#707040" stroke-width="0.9"/><path d="M351.5,379.9 a1.2,1.2 0 1 1 0.2,1.7" fill="none" stroke="#707040" stroke-width="0.9"/><path d="M356.4,379.9 a1.2,1.2 0 1 1 0.2,1.7" fill="none" stroke="#707040" stroke-width="0.9"/>
<rect x="249.9" y="383.4" width="113.7" height="11.6" fill="#ffc000"/>
<rect x="249.9" y="395" width="113.7" height="11.3" fill="#b4c7e7"/>
<text x="255.2" y="394.2" font-size="10.8" font-weight="400" text-anchor="start" fill="#1a1a1a" textLength="13.3" lengthAdjust="spacingAndGlyphs" >Ag</text>
<text x="334" y="404.8" font-size="11" font-weight="400" text-anchor="start" fill="#1a1a1a" textLength="28" lengthAdjust="spacingAndGlyphs" >Prism</text>
</g>
<g id="pd">
<line x1="413.1" y1="404.8" x2="655.77" y2="404.8" stroke="#444" stroke-width="1"/>
<line x1="413.10" y1="404.8" x2="413.10" y2="408.5" stroke="#444" stroke-width="1"/>
<line x1="427.38" y1="404.8" x2="427.38" y2="406.8" stroke="#444" stroke-width="1"/>
<line x1="441.65" y1="404.8" x2="441.65" y2="408.5" stroke="#444" stroke-width="1"/>
<line x1="455.93" y1="404.8" x2="455.93" y2="406.8" stroke="#444" stroke-width="1"/>
<line x1="470.20" y1="404.8" x2="470.20" y2="408.5" stroke="#444" stroke-width="1"/>
<line x1="484.48" y1="404.8" x2="484.48" y2="406.8" stroke="#444" stroke-width="1"/>
<line x1="498.75" y1="404.8" x2="498.75" y2="408.5" stroke="#444" stroke-width="1"/>
<line x1="513.02" y1="404.8" x2="513.02" y2="406.8" stroke="#444" stroke-width="1"/>
<line x1="527.30" y1="404.8" x2="527.30" y2="408.5" stroke="#444" stroke-width="1"/>
<line x1="541.58" y1="404.8" x2="541.58" y2="406.8" stroke="#444" stroke-width="1"/>
<line x1="555.85" y1="404.8" x2="555.85" y2="408.5" stroke="#444" stroke-width="1"/>
<line x1="570.12" y1="404.8" x2="570.12" y2="406.8" stroke="#444" stroke-width="1"/>
<line x1="584.40" y1="404.8" x2="584.40" y2="408.5" stroke="#444" stroke-width="1"/>
<line x1="598.67" y1="404.8" x2="598.67" y2="406.8" stroke="#444" stroke-width="1"/>
<line x1="612.95" y1="404.8" x2="612.95" y2="408.5" stroke="#444" stroke-width="1"/>
<line x1="627.23" y1="404.8" x2="627.23" y2="406.8" stroke="#444" stroke-width="1"/>
<line x1="641.50" y1="404.8" x2="641.50" y2="408.5" stroke="#444" stroke-width="1"/>
<line x1="655.77" y1="404.8" x2="655.77" y2="406.8" stroke="#444" stroke-width="1"/>
<text x="412.10" y="418.8" font-size="10" font-weight="400" text-anchor="middle" fill="#1a1a1a" >400</text>
<text x="440.65" y="418.8" font-size="10" font-weight="400" text-anchor="middle" fill="#1a1a1a" >600</text>
<text x="469.20" y="418.8" font-size="10" font-weight="400" text-anchor="middle" fill="#1a1a1a" >800</text>
<text x="497.75" y="418.8" font-size="10" font-weight="400" text-anchor="middle" fill="#1a1a1a" >1000</text>
<text x="526.30" y="418.8" font-size="10" font-weight="400" text-anchor="middle" fill="#1a1a1a" >1200</text>
<text x="554.85" y="418.8" font-size="10" font-weight="400" text-anchor="middle" fill="#1a1a1a" >1400</text>
<text x="583.40" y="418.8" font-size="10" font-weight="400" text-anchor="middle" fill="#1a1a1a" >1600</text>
<text x="611.95" y="418.8" font-size="10" font-weight="400" text-anchor="middle" fill="#1a1a1a" >1800</text>
<text x="640.50" y="418.8" font-size="10" font-weight="400" text-anchor="middle" fill="#1a1a1a" >2000</text>
<text x="479.5" y="433.3" font-size="13" font-weight="400" text-anchor="start" fill="#222" textLength="110.5" lengthAdjust="spacingAndGlyphs" >Raman Shift (cm<tspan font-size="8.5" dy="-5.5">-1</tspan><tspan dy="5.5">)</tspan></text>
<text x="596.9" y="245.6" font-size="20" font-weight="400" text-anchor="start" fill="#000" >d</text>
<line x1="589.7" y1="273.3" x2="613.7" y2="273.3" stroke="#e01820" stroke-width="1.6"/>
<line x1="589.7" y1="286.7" x2="613.7" y2="286.7" stroke="#111" stroke-width="1.6"/>
<text x="616.2" y="277.4" font-size="10.5" font-weight="400" text-anchor="start" fill="#222" textLength="53" lengthAdjust="spacingAndGlyphs" >with Ag film</text>
<text x="616.2" y="290.8" font-size="10.5" font-weight="400" text-anchor="start" fill="#222" textLength="67.8" lengthAdjust="spacingAndGlyphs" >without Ag film</text>
<line x1="613" y1="304.8" x2="613" y2="330.8" stroke="#111" stroke-width="1.3"/>
<line x1="610.8" y1="304.8" x2="615.2" y2="304.8" stroke="#111" stroke-width="1.1"/>
<line x1="610.8" y1="330.8" x2="615.2" y2="330.8" stroke="#111" stroke-width="1.1"/>
<text x="616.2" y="321.4" font-size="10.3" font-weight="400" text-anchor="start" fill="#222" textLength="56" lengthAdjust="spacingAndGlyphs" >1000 counts</text>
<text x="444.6" y="310.8" font-size="8.5" font-weight="400" text-anchor="start" fill="#1a1a1a" textLength="13.2" lengthAdjust="spacingAndGlyphs" transform="rotate(-90 444.6 310.8)">604</text>
<text x="468.7" y="305.5" font-size="8.5" font-weight="400" text-anchor="start" fill="#1a1a1a" textLength="13.2" lengthAdjust="spacingAndGlyphs" transform="rotate(-90 468.7 305.5)">768</text>
<text x="518.3" y="314.5" font-size="8.5" font-weight="400" text-anchor="start" fill="#1a1a1a" textLength="17.5" lengthAdjust="spacingAndGlyphs" transform="rotate(-90 518.3 314.5)">1115</text>
<text x="528.2" y="302.3" font-size="8.5" font-weight="400" text-anchor="start" fill="#1a1a1a" textLength="17.5" lengthAdjust="spacingAndGlyphs" transform="rotate(-90 528.2 302.3)">1175</text>
<text x="544.2" y="292" font-size="8.5" font-weight="400" text-anchor="start" fill="#1a1a1a" textLength="17.5" lengthAdjust="spacingAndGlyphs" transform="rotate(-90 544.2 292)">1302</text>
<text x="554.2" y="275.2" font-size="8.5" font-weight="400" text-anchor="start" fill="#1a1a1a" textLength="17.5" lengthAdjust="spacingAndGlyphs" transform="rotate(-90 554.2 275.2)">1355</text>
<text x="573.8" y="274.6" font-size="8.5" font-weight="400" text-anchor="start" fill="#1a1a1a" textLength="17.5" lengthAdjust="spacingAndGlyphs" transform="rotate(-90 573.8 274.6)">1501</text>
<text x="584.9" y="311.6" font-size="8.5" font-weight="400" text-anchor="start" fill="#1a1a1a" textLength="17.5" lengthAdjust="spacingAndGlyphs" transform="rotate(-90 584.9 311.6)">1570</text>
<text x="596.2" y="318.1" font-size="8.5" font-weight="400" text-anchor="start" fill="#1a1a1a" textLength="17.5" lengthAdjust="spacingAndGlyphs" transform="rotate(-90 596.2 318.1)">1642</text>
<path d="M412.80,321.90 C413.37,322.23 415.12,323.90 416.20,323.90 C417.28,323.90 418.27,321.65 419.30,321.90 C420.33,322.15 421.03,324.48 422.40,325.40 C423.77,326.32 425.97,326.28 427.50,327.40 C429.03,328.52 430.23,331.83 431.60,332.10 C432.97,332.37 434.52,329.23 435.70,329.00 C436.88,328.77 437.90,331.87 438.70,330.70 C439.50,329.53 439.98,324.25 440.50,322.00 C441.02,319.75 441.38,317.20 441.80,317.20 C442.22,317.20 442.67,319.95 443.00,322.00 C443.33,324.05 442.98,328.40 443.80,329.50 C444.62,330.60 446.53,328.17 447.90,328.60 C449.27,329.03 450.30,332.03 452.00,332.10 C453.70,332.17 456.40,329.23 458.10,329.00 C459.80,328.77 461.25,331.87 462.20,330.70 C463.15,329.53 463.28,325.00 463.80,322.00 C464.32,319.00 464.78,312.70 465.30,312.70 C465.82,312.70 466.22,319.28 466.90,322.00 C467.58,324.72 468.30,328.10 469.40,329.00 C470.50,329.90 471.97,327.47 473.50,327.40 C475.03,327.33 476.57,329.42 478.60,328.60 C480.63,327.78 483.83,323.03 485.70,322.50 C487.57,321.97 488.27,325.33 489.80,325.40 C491.33,325.47 493.02,323.03 494.90,322.90 C496.78,322.77 499.57,324.43 501.10,324.60 C502.63,324.77 502.92,322.65 504.10,323.90 C505.28,325.15 506.88,331.58 508.20,332.10 C509.52,332.62 510.80,328.43 512.00,327.00 C513.20,325.57 514.33,322.82 515.40,323.50 C516.47,324.18 517.38,331.35 518.40,331.10 C519.42,330.85 520.53,325.43 521.50,322.00 C522.47,318.57 523.37,310.83 524.20,310.50 C525.03,310.17 525.77,316.17 526.50,320.00 C527.23,323.83 527.93,331.42 528.60,333.50 C529.27,335.58 529.37,333.48 530.50,332.50 C531.63,331.52 534.15,328.75 535.40,327.60 C536.65,326.45 537.32,327.70 538.00,325.60 C538.68,323.50 539.03,318.93 539.50,315.00 C539.97,311.07 540.37,305.10 540.80,302.00 C541.23,298.90 541.63,296.07 542.10,296.40 C542.57,296.73 543.08,300.30 543.60,304.00 C544.12,307.70 544.63,319.27 545.20,318.60 C545.77,317.93 546.47,305.60 547.00,300.00 C547.53,294.40 547.95,288.43 548.40,285.00 C548.85,281.57 549.25,279.07 549.70,279.40 C550.15,279.73 550.63,283.23 551.10,287.00 C551.57,290.77 551.85,296.17 552.50,302.00 C553.15,307.83 554.22,317.28 555.00,322.00 C555.78,326.72 556.05,329.82 557.20,330.30 C558.35,330.78 560.50,325.68 561.90,324.90 C563.30,324.12 564.62,328.08 565.60,325.60 C566.58,323.12 567.18,316.27 567.80,310.00 C568.42,303.73 568.83,293.60 569.30,288.00 C569.77,282.40 570.15,276.40 570.60,276.40 C571.05,276.40 571.47,282.47 572.00,288.00 C572.53,293.53 573.22,304.27 573.80,309.60 C574.38,314.93 574.97,317.35 575.50,320.00 C576.03,322.65 576.22,325.25 577.00,325.50 C577.78,325.75 579.28,321.25 580.20,321.50 C581.12,321.75 581.53,325.33 582.50,327.00 C583.47,328.67 584.67,331.23 586.00,331.50 C587.33,331.77 588.83,327.42 590.50,328.60 C592.17,329.78 594.35,336.83 596.00,338.60 C597.65,340.37 598.70,338.13 600.40,339.20 C602.10,340.27 604.43,344.35 606.20,345.00 C607.97,345.65 609.08,342.62 611.00,343.10 C612.92,343.58 615.62,347.58 617.70,347.90 C619.78,348.22 621.58,344.52 623.50,345.00 C625.42,345.48 627.45,350.32 629.20,350.80 C630.95,351.28 632.07,347.58 634.00,347.90 C635.93,348.22 639.03,352.38 640.80,352.70 C642.57,353.02 643.00,349.42 644.60,349.80 C646.20,350.18 648.47,354.68 650.40,355.00 C652.33,355.32 655.23,352.25 656.20,351.70" fill="none" stroke="#e41a20" stroke-width="1.9"/>
<path d="M412.80,352.50 C413.72,352.15 416.70,349.90 418.30,350.40 C419.90,350.90 421.22,354.82 422.40,355.50 C423.58,356.18 424.38,354.25 425.40,354.50 C426.42,354.75 427.30,355.80 428.50,357.00 C429.70,358.20 431.07,361.60 432.60,361.70 C434.13,361.80 436.27,359.05 437.70,357.60 C439.13,356.15 440.35,354.20 441.20,353.00 C442.05,351.80 442.37,349.80 442.80,350.40 C443.23,351.00 442.95,355.75 443.80,356.60 C444.65,357.45 446.37,354.90 447.90,355.50 C449.43,356.10 451.30,360.02 453.00,360.20 C454.70,360.38 456.57,356.60 458.10,356.60 C459.63,356.60 461.15,360.97 462.20,360.20 C463.25,359.43 463.78,354.03 464.40,352.00 C465.02,349.97 465.38,347.83 465.90,348.00 C466.42,348.17 466.92,351.23 467.50,353.00 C468.08,354.77 468.07,357.50 469.40,358.60 C470.73,359.70 473.47,358.92 475.50,359.60 C477.53,360.28 479.90,363.03 481.60,362.70 C483.30,362.37 484.17,357.67 485.70,357.60 C487.23,357.53 488.92,362.13 490.80,362.30 C492.68,362.47 494.95,358.87 497.00,358.60 C499.05,358.33 501.40,359.33 503.10,360.70 C504.80,362.07 505.83,366.80 507.20,366.80 C508.57,366.80 509.77,361.22 511.30,360.70 C512.83,360.18 514.95,364.15 516.40,363.70 C517.85,363.25 518.98,360.28 520.00,358.00 C521.02,355.72 521.73,352.30 522.50,350.00 C523.27,347.70 523.92,343.87 524.60,344.20 C525.28,344.53 525.93,348.92 526.60,352.00 C527.27,355.08 528.03,360.77 528.60,362.70 C529.17,364.63 529.32,364.23 530.00,363.60 C530.68,362.97 531.80,359.47 532.70,358.90 C533.60,358.33 534.60,361.18 535.40,360.20 C536.20,359.22 536.82,355.60 537.50,353.00 C538.18,350.40 538.88,347.43 539.50,344.60 C540.12,341.77 540.70,337.98 541.20,336.00 C541.70,334.02 541.98,331.72 542.50,332.70 C543.02,333.68 543.67,338.67 544.30,341.90 C544.93,345.13 545.77,352.08 546.30,352.10 C546.83,352.12 547.17,345.28 547.50,342.00 C547.83,338.72 548.00,335.57 548.30,332.40 C548.60,329.23 549.00,324.93 549.30,323.00 C549.60,321.07 549.73,318.78 550.10,320.80 C550.47,322.82 550.95,329.77 551.50,335.10 C552.05,340.43 552.57,347.82 553.40,352.80 C554.23,357.78 555.53,363.08 556.50,365.00 C557.47,366.92 558.30,364.98 559.20,364.30 C560.10,363.62 560.92,361.02 561.90,360.90 C562.88,360.78 564.28,364.58 565.10,363.60 C565.92,362.62 566.32,357.93 566.80,355.00 C567.28,352.07 567.55,349.50 568.00,346.00 C568.45,342.50 569.03,337.13 569.50,334.00 C569.97,330.87 570.25,325.88 570.80,327.20 C571.35,328.52 572.27,337.77 572.80,341.90 C573.33,346.03 573.55,349.17 574.00,352.00 C574.45,354.83 574.68,356.97 575.50,358.90 C576.32,360.83 577.95,363.20 578.90,363.60 C579.85,364.00 579.87,359.27 581.20,361.30 C582.53,363.33 585.30,374.42 586.90,375.80 C588.50,377.18 589.03,368.48 590.80,369.60 C592.57,370.72 595.75,380.67 597.50,382.50 C599.25,384.33 599.70,379.97 601.30,380.60 C602.90,381.23 605.33,385.82 607.10,386.30 C608.87,386.78 610.13,383.02 611.90,383.50 C613.67,383.98 615.77,388.73 617.70,389.20 C619.63,389.67 621.58,385.72 623.50,386.30 C625.42,386.88 627.45,392.05 629.20,392.70 C630.95,393.35 632.07,389.65 634.00,390.20 C635.93,390.75 638.87,395.68 640.80,396.00 C642.73,396.32 644.00,391.95 645.60,392.10 C647.20,392.25 648.63,396.58 650.40,396.90 C652.17,397.22 655.23,394.48 656.20,394.00" fill="none" stroke="#111" stroke-width="2.2"/>
</g>
<g id="dd">
<rect x="418.3" y="254" width="113.8" height="11.4" fill="#ffc000"/>
<rect x="418.3" y="265.4" width="113.8" height="11.2" fill="#b4c7e7"/>
<path d="M440.30,242.80 q1.9,-0.6 1.7,1.0 q-0.2,1.3 -1.5,1.5 M441.50,237.92 q1.9,-0.6 1.7,1.0 q-0.2,1.3 -1.5,1.5 M444.84,234.16 q1.9,-0.6 1.7,1.0 q-0.2,1.3 -1.5,1.5 M449.53,232.38 q1.9,-0.6 1.7,1.0 q-0.2,1.3 -1.5,1.5 M454.52,232.98 q1.9,-0.6 1.7,1.0 q-0.2,1.3 -1.5,1.5 M458.66,235.84 q1.9,-0.6 1.7,1.0 q-0.2,1.3 -1.5,1.5 M460.99,240.29 q1.9,-0.6 1.7,1.0 q-0.2,1.3 -1.5,1.5 M460.99,245.31 q1.9,-0.6 1.7,1.0 q-0.2,1.3 -1.5,1.5 M458.66,249.76 q1.9,-0.6 1.7,1.0 q-0.2,1.3 -1.5,1.5 M444.84,251.44 q1.9,-0.6 1.7,1.0 q-0.2,1.3 -1.5,1.5 M441.50,247.68 q1.9,-0.6 1.7,1.0 q-0.2,1.3 -1.5,1.5 " fill="none" stroke="#9264cc" stroke-width="0.95"/>
<circle cx="451.9" cy="244.1" r="8.4" fill="#ffc000"/><text x="451.9" y="247.9" font-size="11" font-weight="400" text-anchor="middle" fill="#1a1a1a" >Ag</text>
<ellipse cx="451.9" cy="252.5" rx="1.6" ry="1.0" fill="#e83050"/><path d="M448.9,250.9 L454.9,253.9 M448.9,253.9 L454.9,250.9" stroke="#e04070" stroke-width="1.0"/>
<path d="M466.80,242.80 q1.9,-0.6 1.7,1.0 q-0.2,1.3 -1.5,1.5 M468.00,237.92 q1.9,-0.6 1.7,1.0 q-0.2,1.3 -1.5,1.5 M471.34,234.16 q1.9,-0.6 1.7,1.0 q-0.2,1.3 -1.5,1.5 M476.03,232.38 q1.9,-0.6 1.7,1.0 q-0.2,1.3 -1.5,1.5 M481.02,232.98 q1.9,-0.6 1.7,1.0 q-0.2,1.3 -1.5,1.5 M485.16,235.84 q1.9,-0.6 1.7,1.0 q-0.2,1.3 -1.5,1.5 M487.49,240.29 q1.9,-0.6 1.7,1.0 q-0.2,1.3 -1.5,1.5 M487.49,245.31 q1.9,-0.6 1.7,1.0 q-0.2,1.3 -1.5,1.5 M485.16,249.76 q1.9,-0.6 1.7,1.0 q-0.2,1.3 -1.5,1.5 M471.34,251.44 q1.9,-0.6 1.7,1.0 q-0.2,1.3 -1.5,1.5 M468.00,247.68 q1.9,-0.6 1.7,1.0 q-0.2,1.3 -1.5,1.5 " fill="none" stroke="#9264cc" stroke-width="0.95"/>
<circle cx="478.4" cy="244.1" r="8.4" fill="#ffc000"/>
<ellipse cx="478.4" cy="252.5" rx="1.6" ry="1.0" fill="#e83050"/><path d="M475.4,250.9 L481.4,253.9 M475.4,253.9 L481.4,250.9" stroke="#e04070" stroke-width="1.0"/>
<path d="M503.80,242.80 q1.9,-0.6 1.7,1.0 q-0.2,1.3 -1.5,1.5 M505.00,237.92 q1.9,-0.6 1.7,1.0 q-0.2,1.3 -1.5,1.5 M508.34,234.16 q1.9,-0.6 1.7,1.0 q-0.2,1.3 -1.5,1.5 M513.03,232.38 q1.9,-0.6 1.7,1.0 q-0.2,1.3 -1.5,1.5 M518.02,232.98 q1.9,-0.6 1.7,1.0 q-0.2,1.3 -1.5,1.5 M522.16,235.84 q1.9,-0.6 1.7,1.0 q-0.2,1.3 -1.5,1.5 M524.49,240.29 q1.9,-0.6 1.7,1.0 q-0.2,1.3 -1.5,1.5 M524.49,245.31 q1.9,-0.6 1.7,1.0 q-0.2,1.3 -1.5,1.5 M522.16,249.76 q1.9,-0.6 1.7,1.0 q-0.2,1.3 -1.5,1.5 M508.34,251.44 q1.9,-0.6 1.7,1.0 q-0.2,1.3 -1.5,1.5 M505.00,247.68 q1.9,-0.6 1.7,1.0 q-0.2,1.3 -1.5,1.5 " fill="none" stroke="#9264cc" stroke-width="0.95"/>
<circle cx="515.4" cy="244.1" r="8.4" fill="#ffc000"/>
<ellipse cx="515.4" cy="252.5" rx="1.6" ry="1.0" fill="#e83050"/><path d="M512.4,250.9 L518.4,253.9 M512.4,253.9 L518.4,250.9" stroke="#e04070" stroke-width="1.0"/>
<text x="418.9" y="263.8" font-size="10.8" font-weight="400" text-anchor="start" fill="#1a1a1a" textLength="12.7" lengthAdjust="spacingAndGlyphs" >Ag</text>
<text x="502" y="274.6" font-size="11" font-weight="400" text-anchor="start" fill="#1a1a1a" textLength="28" lengthAdjust="spacingAndGlyphs" >Prism</text>
<rect x="418.3" y="389.6" width="114.4" height="11.3" fill="#b4c7e7"/>
<path d="M431.20,378.10 q1.9,-0.6 1.7,1.0 q-0.2,1.3 -1.5,1.5 M432.40,373.22 q1.9,-0.6 1.7,1.0 q-0.2,1.3 -1.5,1.5 M435.74,369.46 q1.9,-0.6 1.7,1.0 q-0.2,1.3 -1.5,1.5 M440.43,367.68 q1.9,-0.6 1.7,1.0 q-0.2,1.3 -1.5,1.5 M445.42,368.28 q1.9,-0.6 1.7,1.0 q-0.2,1.3 -1.5,1.5 M449.56,371.14 q1.9,-0.6 1.7,1.0 q-0.2,1.3 -1.5,1.5 M451.89,375.59 q1.9,-0.6 1.7,1.0 q-0.2,1.3 -1.5,1.5 M451.89,380.61 q1.9,-0.6 1.7,1.0 q-0.2,1.3 -1.5,1.5 M449.56,385.06 q1.9,-0.6 1.7,1.0 q-0.2,1.3 -1.5,1.5 M435.74,386.74 q1.9,-0.6 1.7,1.0 q-0.2,1.3 -1.5,1.5 M432.40,382.98 q1.9,-0.6 1.7,1.0 q-0.2,1.3 -1.5,1.5 " fill="none" stroke="#9264cc" stroke-width="0.95"/>
<circle cx="442.8" cy="379.4" r="8.3" fill="#ffc000"/><text x="442.8" y="383.2" font-size="11" font-weight="400" text-anchor="middle" fill="#1a1a1a" >Ag</text>
<ellipse cx="442.8" cy="387.8" rx="1.6" ry="1.0" fill="#e83050"/><path d="M439.8,386.2 L445.8,389.2 M439.8,389.2 L445.8,386.2" stroke="#e04070" stroke-width="1.0"/>
<path d="M457.20,378.10 q1.9,-0.6 1.7,1.0 q-0.2,1.3 -1.5,1.5 M458.40,373.22 q1.9,-0.6 1.7,1.0 q-0.2,1.3 -1.5,1.5 M461.74,369.46 q1.9,-0.6 1.7,1.0 q-0.2,1.3 -1.5,1.5 M466.43,367.68 q1.9,-0.6 1.7,1.0 q-0.2,1.3 -1.5,1.5 M471.42,368.28 q1.9,-0.6 1.7,1.0 q-0.2,1.3 -1.5,1.5 M475.56,371.14 q1.9,-0.6 1.7,1.0 q-0.2,1.3 -1.5,1.5 M477.89,375.59 q1.9,-0.6 1.7,1.0 q-0.2,1.3 -1.5,1.5 M477.89,380.61 q1.9,-0.6 1.7,1.0 q-0.2,1.3 -1.5,1.5 M475.56,385.06 q1.9,-0.6 1.7,1.0 q-0.2,1.3 -1.5,1.5 M461.74,386.74 q1.9,-0.6 1.7,1.0 q-0.2,1.3 -1.5,1.5 M458.40,382.98 q1.9,-0.6 1.7,1.0 q-0.2,1.3 -1.5,1.5 " fill="none" stroke="#9264cc" stroke-width="0.95"/>
<circle cx="468.8" cy="379.4" r="8.3" fill="#ffc000"/>
<ellipse cx="468.8" cy="387.8" rx="1.6" ry="1.0" fill="#e83050"/><path d="M465.8,386.2 L471.8,389.2 M465.8,389.2 L471.8,386.2" stroke="#e04070" stroke-width="1.0"/>
<path d="M494.60,378.10 q1.9,-0.6 1.7,1.0 q-0.2,1.3 -1.5,1.5 M495.80,373.22 q1.9,-0.6 1.7,1.0 q-0.2,1.3 -1.5,1.5 M499.14,369.46 q1.9,-0.6 1.7,1.0 q-0.2,1.3 -1.5,1.5 M503.83,367.68 q1.9,-0.6 1.7,1.0 q-0.2,1.3 -1.5,1.5 M508.82,368.28 q1.9,-0.6 1.7,1.0 q-0.2,1.3 -1.5,1.5 M512.96,371.14 q1.9,-0.6 1.7,1.0 q-0.2,1.3 -1.5,1.5 M515.29,375.59 q1.9,-0.6 1.7,1.0 q-0.2,1.3 -1.5,1.5 M515.29,380.61 q1.9,-0.6 1.7,1.0 q-0.2,1.3 -1.5,1.5 M512.96,385.06 q1.9,-0.6 1.7,1.0 q-0.2,1.3 -1.5,1.5 M499.14,386.74 q1.9,-0.6 1.7,1.0 q-0.2,1.3 -1.5,1.5 M495.80,382.98 q1.9,-0.6 1.7,1.0 q-0.2,1.3 -1.5,1.5 " fill="none" stroke="#9264cc" stroke-width="0.95"/>
<circle cx="506.2" cy="379.4" r="8.3" fill="#ffc000"/>
<ellipse cx="506.2" cy="387.8" rx="1.6" ry="1.0" fill="#e83050"/><path d="M503.2,386.2 L509.2,389.2 M503.2,389.2 L509.2,386.2" stroke="#e04070" stroke-width="1.0"/>
<text x="504.5" y="400.2" font-size="11" font-weight="400" text-anchor="start" fill="#1a1a1a" textLength="27.2" lengthAdjust="spacingAndGlyphs" >Prism</text>
</g>
</svg></body></html>
